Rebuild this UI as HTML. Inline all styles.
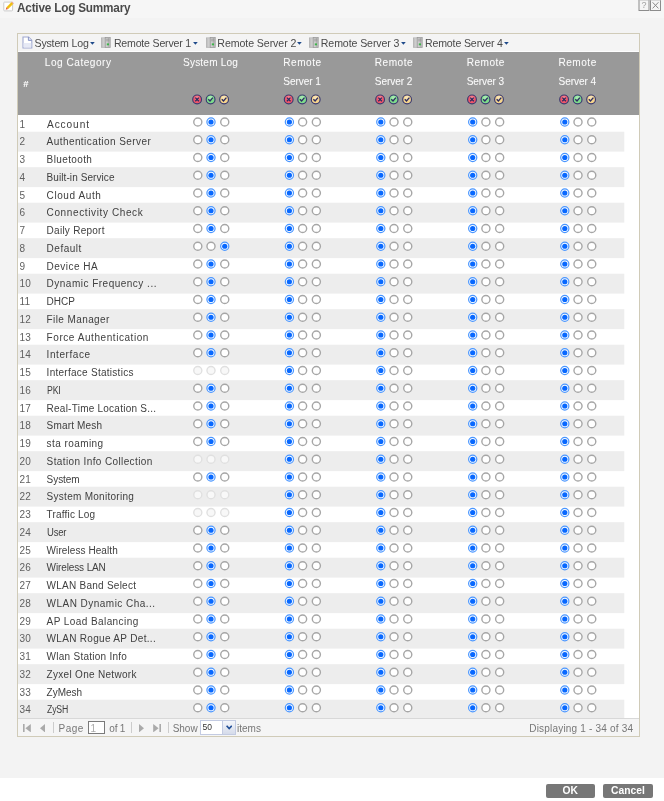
<!DOCTYPE html>
<html><head><meta charset="utf-8"><title>Active Log Summary</title><style>
*{box-sizing:border-box;margin:0;padding:0}
html,body{width:664px;height:801px;overflow:hidden}
body{background:#f3f3f3;font-family:"Liberation Sans",sans-serif;font-size:10px;color:#222;position:relative}
.abs{position:absolute}
#wrap{position:absolute;left:0;top:0;width:664px;height:801px;filter:blur(.35px)}
#titlebar{left:0;top:0;width:664px;height:17.6px;background:#f6f6f6}
#title{left:17.3px;top:.6px;font-size:12.4px;font-weight:bold;color:#4a4a4a;line-height:14px;white-space:nowrap}
#footer{left:0;top:777.5px;width:664px;height:24px;background:#fff}
#panel{left:17px;top:33px;width:623px;height:704px;border:1px solid #d0cbb8;background:#fff}
#toolbar{left:18px;top:34px;width:621px;height:18.4px;background:linear-gradient(#f4f4f4 0,#f4f4f4 16.6px,#fdfdfd 17.2px)}
.tb{top:35.6px;font-size:10.6px;line-height:14px;color:#4a4a4a;white-space:nowrap}
#head{left:18px;top:52.4px;width:621px;height:62.3px;background:#999}
.h{color:#fafafa;font-size:10.1px;line-height:14px;white-space:nowrap;text-shadow:0 0 1px rgba(255,255,255,.3)}
.n{left:19.6px;color:#606060;line-height:14px;white-space:nowrap}
.l{left:46.6px;color:#404040;line-height:14px;white-space:nowrap}
#pager{left:18px;top:718.2px;width:621px;height:17.8px;background:#f5f5f5;border-top:1px solid #d8d8d8}
.p{color:#777;line-height:14px;white-space:nowrap;top:722.4px}
.sep{width:1px;height:11px;top:722px;background:#ccc}
.btn{top:784px;height:14px;background:#777;border-radius:2px;color:#fff;font-weight:bold;font-size:10.3px;line-height:14px;text-align:center}
</style></head><body><div id="wrap">
<div class="abs" id="titlebar"></div>
<svg class="abs" style="left:3px;top:1px" width="11" height="11" viewBox="0 0 11 11"><rect x="0.8" y="1.1" width="8.8" height="8.8" rx=".8" fill="#fff" stroke="#cbcbcb" stroke-width="1"></rect><path d="M3.4 6.2 L8.4 1.1 L10.3 2.9 L5.2 8.0 Z" fill="#f6c81e"></path><path d="M4.3 7.1 L9.3 2" stroke="#e0a80e" stroke-width=".7"></path><path d="M8.4 1.1 L9.1 .4 L10.9 2.2 L10.3 2.9Z" fill="#e8a0a0"></path><path d="M3.4 6.2 L5.2 8.0 L2.7 8.8 Z" fill="#e2603a"></path></svg>
<div class="abs" id="title" style="letter-spacing: -0.2px; transform: scaleX(0.948); transform-origin: 0px 0px;">Active Log Summary</div>
<svg class="abs" style="left:637.5px;top:0" width="24" height="12" viewBox="0 0 24 12"><rect x="1" y="-0.5" width="10" height="11" fill="#f5f5f5" stroke="#8c8c8c"></rect><rect x="12.5" y="-0.5" width="10" height="11" fill="#f5f5f5" stroke="#8c8c8c"></rect><path d="M0.5 0.3H23" stroke="#b8b8b8" stroke-width=".6"></path><path d="M14.6 2.3 L20.4 8.4 M20.4 2.3 L14.6 8.4" stroke="#8a8a8a" stroke-width="1" fill="none"></path><text x="6" y="8.3" font-family="Liberation Sans, sans-serif" font-size="9" fill="#a0a0a0" text-anchor="middle">?</text></svg>
<div class="abs" id="footer"></div>
<div class="abs" id="panel"></div>
<div class="abs" id="toolbar"></div>
<svg class="abs" style="left:21.5px;top:36px" width="11" height="13" viewBox="0 0 11 13"><path d="M1 1 H6.6 L9.8 4.2 V12 H1 Z" fill="#fff" stroke="#9fa8d0" stroke-width="1.1"></path><path d="M6.4 1 V4.4 H9.8" fill="#dfe4f4" stroke="#7f8cc0" stroke-width=".9"></path><path d="M1.6 7h7.6v4.4H1.6z" fill="#e6e9f5"></path></svg>
<div class="abs tb" style="left: 34.5px; letter-spacing: -0.18px;">System Log</div>
<svg class="abs" style="left:90.1px;top:42.1px" width="4.8" height="2.8" viewBox="0 0 5 3"><path d="M0 0H5L2.5 3Z" fill="#1f4a8a"></path></svg>
<svg class="abs" style="left:101.3px;top:37px" width="10" height="11" viewBox="0 0 10 11"><rect x="0.4" y="0.9" width="4.4" height="9.4" fill="#dedede" stroke="#adadad" stroke-width=".8"></rect><path d="M1.6 1.4V10M3 1.4V10" stroke="#b4b4b4" stroke-width=".7"></path><rect x="4.2" y="0.4" width="5" height="10" fill="#cfcfcf" stroke="#9a9a9a" stroke-width=".8"></rect><rect x="6.8" y="0.8" width="2" height="9.2" fill="#b4b4b4"></rect><path d="M5 2.2h3.4M5 3.8h3.4" stroke="#8c8c8c" stroke-width=".6"></path><rect x="5.8" y="6.4" width="2.2" height="1.9" fill="#3db54a"></rect></svg>
<div class="abs tb" style="left: 113.9px; letter-spacing: -0.2px;">Remote Server 1</div>
<svg class="abs" style="left:192.9px;top:42.1px" width="4.8" height="2.8" viewBox="0 0 5 3"><path d="M0 0H5L2.5 3Z" fill="#1f4a8a"></path></svg>
<svg class="abs" style="left:205.6px;top:37px" width="10" height="11" viewBox="0 0 10 11"><rect x="0.4" y="0.9" width="4.4" height="9.4" fill="#dedede" stroke="#adadad" stroke-width=".8"></rect><path d="M1.6 1.4V10M3 1.4V10" stroke="#b4b4b4" stroke-width=".7"></path><rect x="4.2" y="0.4" width="5" height="10" fill="#cfcfcf" stroke="#9a9a9a" stroke-width=".8"></rect><rect x="6.8" y="0.8" width="2" height="9.2" fill="#b4b4b4"></rect><path d="M5 2.2h3.4M5 3.8h3.4" stroke="#8c8c8c" stroke-width=".6"></path><rect x="5.8" y="6.4" width="2.2" height="1.9" fill="#3db54a"></rect></svg>
<div class="abs tb" style="left: 217.3px; letter-spacing: -0.07px;">Remote Server 2</div>
<svg class="abs" style="left:297.1px;top:42.1px" width="4.8" height="2.8" viewBox="0 0 5 3"><path d="M0 0H5L2.5 3Z" fill="#1f4a8a"></path></svg>
<svg class="abs" style="left:308.6px;top:37px" width="10" height="11" viewBox="0 0 10 11"><rect x="0.4" y="0.9" width="4.4" height="9.4" fill="#dedede" stroke="#adadad" stroke-width=".8"></rect><path d="M1.6 1.4V10M3 1.4V10" stroke="#b4b4b4" stroke-width=".7"></path><rect x="4.2" y="0.4" width="5" height="10" fill="#cfcfcf" stroke="#9a9a9a" stroke-width=".8"></rect><rect x="6.8" y="0.8" width="2" height="9.2" fill="#b4b4b4"></rect><path d="M5 2.2h3.4M5 3.8h3.4" stroke="#8c8c8c" stroke-width=".6"></path><rect x="5.8" y="6.4" width="2.2" height="1.9" fill="#3db54a"></rect></svg>
<div class="abs tb" style="left: 320.8px; letter-spacing: -0.1px;">Remote Server 3</div>
<svg class="abs" style="left:401.20000000000005px;top:42.1px" width="4.8" height="2.8" viewBox="0 0 5 3"><path d="M0 0H5L2.5 3Z" fill="#1f4a8a"></path></svg>
<svg class="abs" style="left:413px;top:37px" width="10" height="11" viewBox="0 0 10 11"><rect x="0.4" y="0.9" width="4.4" height="9.4" fill="#dedede" stroke="#adadad" stroke-width=".8"></rect><path d="M1.6 1.4V10M3 1.4V10" stroke="#b4b4b4" stroke-width=".7"></path><rect x="4.2" y="0.4" width="5" height="10" fill="#cfcfcf" stroke="#9a9a9a" stroke-width=".8"></rect><rect x="6.8" y="0.8" width="2" height="9.2" fill="#b4b4b4"></rect><path d="M5 2.2h3.4M5 3.8h3.4" stroke="#8c8c8c" stroke-width=".6"></path><rect x="5.8" y="6.4" width="2.2" height="1.9" fill="#3db54a"></rect></svg>
<div class="abs tb" style="left: 424.9px; letter-spacing: -0.14px;">Remote Server 4</div>
<svg class="abs" style="left:504.1px;top:42.1px" width="4.8" height="2.8" viewBox="0 0 5 3"><path d="M0 0H5L2.5 3Z" fill="#1f4a8a"></path></svg>
<div class="abs" id="head"></div>
<div class="abs h" style="left:23.2px;top:77px;font-weight:bold;font-size:9.5px">#</div>
<div class="abs h" style="left: 44.8px; top: 55.8px; letter-spacing: 0.51px;">Log Category</div>
<div class="abs h" style="left: 183px; top: 56.2px; letter-spacing: 0.18px;">System Log</div>
<div class="abs h" style="left: 283.3px; top: 56.2px; letter-spacing: 0.48px;">Remote</div>
<div class="abs h" style="left: 283.3px; top: 75.1px; letter-spacing: -0.09px;">Server 1</div>
<div class="abs h" style="left: 374.8px; top: 56.2px; letter-spacing: 0.48px;">Remote</div>
<div class="abs h" style="left: 374.8px; top: 75.1px; letter-spacing: -0.09px;">Server 2</div>
<div class="abs h" style="left: 466.7px; top: 56.2px; letter-spacing: 0.48px;">Remote</div>
<div class="abs h" style="left: 466.7px; top: 75.1px; letter-spacing: -0.09px;">Server 3</div>
<div class="abs h" style="left: 558.5px; top: 56.2px; letter-spacing: 0.48px;">Remote</div>
<div class="abs h" style="left: 558.5px; top: 75.1px; letter-spacing: -0.09px;">Server 4</div>
<svg class="abs" style="left:0;top:0" width="664" height="801" viewBox="0 0 664 801"><rect x="18" y="131.70" width="606.3" height="19.90" fill="#ededed"></rect><rect x="18" y="167.20" width="606.3" height="19.90" fill="#ededed"></rect><rect x="18" y="202.70" width="606.3" height="19.90" fill="#ededed"></rect><rect x="18" y="238.20" width="606.3" height="19.90" fill="#ededed"></rect><rect x="18" y="273.70" width="606.3" height="19.90" fill="#ededed"></rect><rect x="18" y="309.20" width="606.3" height="19.90" fill="#ededed"></rect><rect x="18" y="344.70" width="606.3" height="19.90" fill="#ededed"></rect><rect x="18" y="380.20" width="606.3" height="19.90" fill="#ededed"></rect><rect x="18" y="415.70" width="606.3" height="19.90" fill="#ededed"></rect><rect x="18" y="451.20" width="606.3" height="19.90" fill="#ededed"></rect><rect x="18" y="486.70" width="606.3" height="19.90" fill="#ededed"></rect><rect x="18" y="522.20" width="606.3" height="19.90" fill="#ededed"></rect><rect x="18" y="557.70" width="606.3" height="19.90" fill="#ededed"></rect><rect x="18" y="593.20" width="606.3" height="19.90" fill="#ededed"></rect><rect x="18" y="628.70" width="606.3" height="19.90" fill="#ededed"></rect><rect x="18" y="664.20" width="606.3" height="19.90" fill="#ededed"></rect><rect x="18" y="699.70" width="606.3" height="18.60" fill="#ededed"></rect><circle cx="197.80" cy="122.00" r="4.05" fill="#fff" stroke="#a6a6a6" stroke-width="1.4"></circle><circle cx="211.00" cy="122.00" r="4.1" fill="#fbfdff" stroke="#4a96ff" stroke-width="1.2"></circle><circle cx="211.00" cy="122.00" r="2.6" fill="#0868ff"></circle><circle cx="224.75" cy="122.00" r="4.05" fill="#fff" stroke="#a6a6a6" stroke-width="1.4"></circle><circle cx="289.40" cy="122.00" r="4.1" fill="#fbfdff" stroke="#4a96ff" stroke-width="1.2"></circle><circle cx="289.40" cy="122.00" r="2.6" fill="#0868ff"></circle><circle cx="302.60" cy="122.00" r="4.05" fill="#fff" stroke="#a6a6a6" stroke-width="1.4"></circle><circle cx="316.35" cy="122.00" r="4.05" fill="#fff" stroke="#a6a6a6" stroke-width="1.4"></circle><circle cx="380.80" cy="122.00" r="4.1" fill="#fbfdff" stroke="#4a96ff" stroke-width="1.2"></circle><circle cx="380.80" cy="122.00" r="2.6" fill="#0868ff"></circle><circle cx="394.00" cy="122.00" r="4.05" fill="#fff" stroke="#a6a6a6" stroke-width="1.4"></circle><circle cx="407.75" cy="122.00" r="4.05" fill="#fff" stroke="#a6a6a6" stroke-width="1.4"></circle><circle cx="472.70" cy="122.00" r="4.1" fill="#fbfdff" stroke="#4a96ff" stroke-width="1.2"></circle><circle cx="472.70" cy="122.00" r="2.6" fill="#0868ff"></circle><circle cx="485.90" cy="122.00" r="4.05" fill="#fff" stroke="#a6a6a6" stroke-width="1.4"></circle><circle cx="499.65" cy="122.00" r="4.05" fill="#fff" stroke="#a6a6a6" stroke-width="1.4"></circle><circle cx="564.80" cy="122.00" r="4.1" fill="#fbfdff" stroke="#4a96ff" stroke-width="1.2"></circle><circle cx="564.80" cy="122.00" r="2.6" fill="#0868ff"></circle><circle cx="578.00" cy="122.00" r="4.05" fill="#fff" stroke="#a6a6a6" stroke-width="1.4"></circle><circle cx="591.75" cy="122.00" r="4.05" fill="#fff" stroke="#a6a6a6" stroke-width="1.4"></circle><circle cx="197.80" cy="139.75" r="4.05" fill="#fff" stroke="#a6a6a6" stroke-width="1.4"></circle><circle cx="211.00" cy="139.75" r="4.1" fill="#fbfdff" stroke="#4a96ff" stroke-width="1.2"></circle><circle cx="211.00" cy="139.75" r="2.6" fill="#0868ff"></circle><circle cx="224.75" cy="139.75" r="4.05" fill="#fff" stroke="#a6a6a6" stroke-width="1.4"></circle><circle cx="289.40" cy="139.75" r="4.1" fill="#fbfdff" stroke="#4a96ff" stroke-width="1.2"></circle><circle cx="289.40" cy="139.75" r="2.6" fill="#0868ff"></circle><circle cx="302.60" cy="139.75" r="4.05" fill="#fff" stroke="#a6a6a6" stroke-width="1.4"></circle><circle cx="316.35" cy="139.75" r="4.05" fill="#fff" stroke="#a6a6a6" stroke-width="1.4"></circle><circle cx="380.80" cy="139.75" r="4.1" fill="#fbfdff" stroke="#4a96ff" stroke-width="1.2"></circle><circle cx="380.80" cy="139.75" r="2.6" fill="#0868ff"></circle><circle cx="394.00" cy="139.75" r="4.05" fill="#fff" stroke="#a6a6a6" stroke-width="1.4"></circle><circle cx="407.75" cy="139.75" r="4.05" fill="#fff" stroke="#a6a6a6" stroke-width="1.4"></circle><circle cx="472.70" cy="139.75" r="4.1" fill="#fbfdff" stroke="#4a96ff" stroke-width="1.2"></circle><circle cx="472.70" cy="139.75" r="2.6" fill="#0868ff"></circle><circle cx="485.90" cy="139.75" r="4.05" fill="#fff" stroke="#a6a6a6" stroke-width="1.4"></circle><circle cx="499.65" cy="139.75" r="4.05" fill="#fff" stroke="#a6a6a6" stroke-width="1.4"></circle><circle cx="564.80" cy="139.75" r="4.1" fill="#fbfdff" stroke="#4a96ff" stroke-width="1.2"></circle><circle cx="564.80" cy="139.75" r="2.6" fill="#0868ff"></circle><circle cx="578.00" cy="139.75" r="4.05" fill="#fff" stroke="#a6a6a6" stroke-width="1.4"></circle><circle cx="591.75" cy="139.75" r="4.05" fill="#fff" stroke="#a6a6a6" stroke-width="1.4"></circle><circle cx="197.80" cy="157.50" r="4.05" fill="#fff" stroke="#a6a6a6" stroke-width="1.4"></circle><circle cx="211.00" cy="157.50" r="4.1" fill="#fbfdff" stroke="#4a96ff" stroke-width="1.2"></circle><circle cx="211.00" cy="157.50" r="2.6" fill="#0868ff"></circle><circle cx="224.75" cy="157.50" r="4.05" fill="#fff" stroke="#a6a6a6" stroke-width="1.4"></circle><circle cx="289.40" cy="157.50" r="4.1" fill="#fbfdff" stroke="#4a96ff" stroke-width="1.2"></circle><circle cx="289.40" cy="157.50" r="2.6" fill="#0868ff"></circle><circle cx="302.60" cy="157.50" r="4.05" fill="#fff" stroke="#a6a6a6" stroke-width="1.4"></circle><circle cx="316.35" cy="157.50" r="4.05" fill="#fff" stroke="#a6a6a6" stroke-width="1.4"></circle><circle cx="380.80" cy="157.50" r="4.1" fill="#fbfdff" stroke="#4a96ff" stroke-width="1.2"></circle><circle cx="380.80" cy="157.50" r="2.6" fill="#0868ff"></circle><circle cx="394.00" cy="157.50" r="4.05" fill="#fff" stroke="#a6a6a6" stroke-width="1.4"></circle><circle cx="407.75" cy="157.50" r="4.05" fill="#fff" stroke="#a6a6a6" stroke-width="1.4"></circle><circle cx="472.70" cy="157.50" r="4.1" fill="#fbfdff" stroke="#4a96ff" stroke-width="1.2"></circle><circle cx="472.70" cy="157.50" r="2.6" fill="#0868ff"></circle><circle cx="485.90" cy="157.50" r="4.05" fill="#fff" stroke="#a6a6a6" stroke-width="1.4"></circle><circle cx="499.65" cy="157.50" r="4.05" fill="#fff" stroke="#a6a6a6" stroke-width="1.4"></circle><circle cx="564.80" cy="157.50" r="4.1" fill="#fbfdff" stroke="#4a96ff" stroke-width="1.2"></circle><circle cx="564.80" cy="157.50" r="2.6" fill="#0868ff"></circle><circle cx="578.00" cy="157.50" r="4.05" fill="#fff" stroke="#a6a6a6" stroke-width="1.4"></circle><circle cx="591.75" cy="157.50" r="4.05" fill="#fff" stroke="#a6a6a6" stroke-width="1.4"></circle><circle cx="197.80" cy="175.25" r="4.05" fill="#fff" stroke="#a6a6a6" stroke-width="1.4"></circle><circle cx="211.00" cy="175.25" r="4.1" fill="#fbfdff" stroke="#4a96ff" stroke-width="1.2"></circle><circle cx="211.00" cy="175.25" r="2.6" fill="#0868ff"></circle><circle cx="224.75" cy="175.25" r="4.05" fill="#fff" stroke="#a6a6a6" stroke-width="1.4"></circle><circle cx="289.40" cy="175.25" r="4.1" fill="#fbfdff" stroke="#4a96ff" stroke-width="1.2"></circle><circle cx="289.40" cy="175.25" r="2.6" fill="#0868ff"></circle><circle cx="302.60" cy="175.25" r="4.05" fill="#fff" stroke="#a6a6a6" stroke-width="1.4"></circle><circle cx="316.35" cy="175.25" r="4.05" fill="#fff" stroke="#a6a6a6" stroke-width="1.4"></circle><circle cx="380.80" cy="175.25" r="4.1" fill="#fbfdff" stroke="#4a96ff" stroke-width="1.2"></circle><circle cx="380.80" cy="175.25" r="2.6" fill="#0868ff"></circle><circle cx="394.00" cy="175.25" r="4.05" fill="#fff" stroke="#a6a6a6" stroke-width="1.4"></circle><circle cx="407.75" cy="175.25" r="4.05" fill="#fff" stroke="#a6a6a6" stroke-width="1.4"></circle><circle cx="472.70" cy="175.25" r="4.1" fill="#fbfdff" stroke="#4a96ff" stroke-width="1.2"></circle><circle cx="472.70" cy="175.25" r="2.6" fill="#0868ff"></circle><circle cx="485.90" cy="175.25" r="4.05" fill="#fff" stroke="#a6a6a6" stroke-width="1.4"></circle><circle cx="499.65" cy="175.25" r="4.05" fill="#fff" stroke="#a6a6a6" stroke-width="1.4"></circle><circle cx="564.80" cy="175.25" r="4.1" fill="#fbfdff" stroke="#4a96ff" stroke-width="1.2"></circle><circle cx="564.80" cy="175.25" r="2.6" fill="#0868ff"></circle><circle cx="578.00" cy="175.25" r="4.05" fill="#fff" stroke="#a6a6a6" stroke-width="1.4"></circle><circle cx="591.75" cy="175.25" r="4.05" fill="#fff" stroke="#a6a6a6" stroke-width="1.4"></circle><circle cx="197.80" cy="193.00" r="4.05" fill="#fff" stroke="#a6a6a6" stroke-width="1.4"></circle><circle cx="211.00" cy="193.00" r="4.1" fill="#fbfdff" stroke="#4a96ff" stroke-width="1.2"></circle><circle cx="211.00" cy="193.00" r="2.6" fill="#0868ff"></circle><circle cx="224.75" cy="193.00" r="4.05" fill="#fff" stroke="#a6a6a6" stroke-width="1.4"></circle><circle cx="289.40" cy="193.00" r="4.1" fill="#fbfdff" stroke="#4a96ff" stroke-width="1.2"></circle><circle cx="289.40" cy="193.00" r="2.6" fill="#0868ff"></circle><circle cx="302.60" cy="193.00" r="4.05" fill="#fff" stroke="#a6a6a6" stroke-width="1.4"></circle><circle cx="316.35" cy="193.00" r="4.05" fill="#fff" stroke="#a6a6a6" stroke-width="1.4"></circle><circle cx="380.80" cy="193.00" r="4.1" fill="#fbfdff" stroke="#4a96ff" stroke-width="1.2"></circle><circle cx="380.80" cy="193.00" r="2.6" fill="#0868ff"></circle><circle cx="394.00" cy="193.00" r="4.05" fill="#fff" stroke="#a6a6a6" stroke-width="1.4"></circle><circle cx="407.75" cy="193.00" r="4.05" fill="#fff" stroke="#a6a6a6" stroke-width="1.4"></circle><circle cx="472.70" cy="193.00" r="4.1" fill="#fbfdff" stroke="#4a96ff" stroke-width="1.2"></circle><circle cx="472.70" cy="193.00" r="2.6" fill="#0868ff"></circle><circle cx="485.90" cy="193.00" r="4.05" fill="#fff" stroke="#a6a6a6" stroke-width="1.4"></circle><circle cx="499.65" cy="193.00" r="4.05" fill="#fff" stroke="#a6a6a6" stroke-width="1.4"></circle><circle cx="564.80" cy="193.00" r="4.1" fill="#fbfdff" stroke="#4a96ff" stroke-width="1.2"></circle><circle cx="564.80" cy="193.00" r="2.6" fill="#0868ff"></circle><circle cx="578.00" cy="193.00" r="4.05" fill="#fff" stroke="#a6a6a6" stroke-width="1.4"></circle><circle cx="591.75" cy="193.00" r="4.05" fill="#fff" stroke="#a6a6a6" stroke-width="1.4"></circle><circle cx="197.80" cy="210.75" r="4.05" fill="#fff" stroke="#a6a6a6" stroke-width="1.4"></circle><circle cx="211.00" cy="210.75" r="4.1" fill="#fbfdff" stroke="#4a96ff" stroke-width="1.2"></circle><circle cx="211.00" cy="210.75" r="2.6" fill="#0868ff"></circle><circle cx="224.75" cy="210.75" r="4.05" fill="#fff" stroke="#a6a6a6" stroke-width="1.4"></circle><circle cx="289.40" cy="210.75" r="4.1" fill="#fbfdff" stroke="#4a96ff" stroke-width="1.2"></circle><circle cx="289.40" cy="210.75" r="2.6" fill="#0868ff"></circle><circle cx="302.60" cy="210.75" r="4.05" fill="#fff" stroke="#a6a6a6" stroke-width="1.4"></circle><circle cx="316.35" cy="210.75" r="4.05" fill="#fff" stroke="#a6a6a6" stroke-width="1.4"></circle><circle cx="380.80" cy="210.75" r="4.1" fill="#fbfdff" stroke="#4a96ff" stroke-width="1.2"></circle><circle cx="380.80" cy="210.75" r="2.6" fill="#0868ff"></circle><circle cx="394.00" cy="210.75" r="4.05" fill="#fff" stroke="#a6a6a6" stroke-width="1.4"></circle><circle cx="407.75" cy="210.75" r="4.05" fill="#fff" stroke="#a6a6a6" stroke-width="1.4"></circle><circle cx="472.70" cy="210.75" r="4.1" fill="#fbfdff" stroke="#4a96ff" stroke-width="1.2"></circle><circle cx="472.70" cy="210.75" r="2.6" fill="#0868ff"></circle><circle cx="485.90" cy="210.75" r="4.05" fill="#fff" stroke="#a6a6a6" stroke-width="1.4"></circle><circle cx="499.65" cy="210.75" r="4.05" fill="#fff" stroke="#a6a6a6" stroke-width="1.4"></circle><circle cx="564.80" cy="210.75" r="4.1" fill="#fbfdff" stroke="#4a96ff" stroke-width="1.2"></circle><circle cx="564.80" cy="210.75" r="2.6" fill="#0868ff"></circle><circle cx="578.00" cy="210.75" r="4.05" fill="#fff" stroke="#a6a6a6" stroke-width="1.4"></circle><circle cx="591.75" cy="210.75" r="4.05" fill="#fff" stroke="#a6a6a6" stroke-width="1.4"></circle><circle cx="197.80" cy="228.50" r="4.05" fill="#fff" stroke="#a6a6a6" stroke-width="1.4"></circle><circle cx="211.00" cy="228.50" r="4.1" fill="#fbfdff" stroke="#4a96ff" stroke-width="1.2"></circle><circle cx="211.00" cy="228.50" r="2.6" fill="#0868ff"></circle><circle cx="224.75" cy="228.50" r="4.05" fill="#fff" stroke="#a6a6a6" stroke-width="1.4"></circle><circle cx="289.40" cy="228.50" r="4.1" fill="#fbfdff" stroke="#4a96ff" stroke-width="1.2"></circle><circle cx="289.40" cy="228.50" r="2.6" fill="#0868ff"></circle><circle cx="302.60" cy="228.50" r="4.05" fill="#fff" stroke="#a6a6a6" stroke-width="1.4"></circle><circle cx="316.35" cy="228.50" r="4.05" fill="#fff" stroke="#a6a6a6" stroke-width="1.4"></circle><circle cx="380.80" cy="228.50" r="4.1" fill="#fbfdff" stroke="#4a96ff" stroke-width="1.2"></circle><circle cx="380.80" cy="228.50" r="2.6" fill="#0868ff"></circle><circle cx="394.00" cy="228.50" r="4.05" fill="#fff" stroke="#a6a6a6" stroke-width="1.4"></circle><circle cx="407.75" cy="228.50" r="4.05" fill="#fff" stroke="#a6a6a6" stroke-width="1.4"></circle><circle cx="472.70" cy="228.50" r="4.1" fill="#fbfdff" stroke="#4a96ff" stroke-width="1.2"></circle><circle cx="472.70" cy="228.50" r="2.6" fill="#0868ff"></circle><circle cx="485.90" cy="228.50" r="4.05" fill="#fff" stroke="#a6a6a6" stroke-width="1.4"></circle><circle cx="499.65" cy="228.50" r="4.05" fill="#fff" stroke="#a6a6a6" stroke-width="1.4"></circle><circle cx="564.80" cy="228.50" r="4.1" fill="#fbfdff" stroke="#4a96ff" stroke-width="1.2"></circle><circle cx="564.80" cy="228.50" r="2.6" fill="#0868ff"></circle><circle cx="578.00" cy="228.50" r="4.05" fill="#fff" stroke="#a6a6a6" stroke-width="1.4"></circle><circle cx="591.75" cy="228.50" r="4.05" fill="#fff" stroke="#a6a6a6" stroke-width="1.4"></circle><circle cx="197.80" cy="246.25" r="4.05" fill="#fff" stroke="#a6a6a6" stroke-width="1.4"></circle><circle cx="211.00" cy="246.25" r="4.05" fill="#fff" stroke="#a6a6a6" stroke-width="1.4"></circle><circle cx="224.75" cy="246.25" r="4.1" fill="#fbfdff" stroke="#4a96ff" stroke-width="1.2"></circle><circle cx="224.75" cy="246.25" r="2.6" fill="#0868ff"></circle><circle cx="289.40" cy="246.25" r="4.1" fill="#fbfdff" stroke="#4a96ff" stroke-width="1.2"></circle><circle cx="289.40" cy="246.25" r="2.6" fill="#0868ff"></circle><circle cx="302.60" cy="246.25" r="4.05" fill="#fff" stroke="#a6a6a6" stroke-width="1.4"></circle><circle cx="316.35" cy="246.25" r="4.05" fill="#fff" stroke="#a6a6a6" stroke-width="1.4"></circle><circle cx="380.80" cy="246.25" r="4.1" fill="#fbfdff" stroke="#4a96ff" stroke-width="1.2"></circle><circle cx="380.80" cy="246.25" r="2.6" fill="#0868ff"></circle><circle cx="394.00" cy="246.25" r="4.05" fill="#fff" stroke="#a6a6a6" stroke-width="1.4"></circle><circle cx="407.75" cy="246.25" r="4.05" fill="#fff" stroke="#a6a6a6" stroke-width="1.4"></circle><circle cx="472.70" cy="246.25" r="4.1" fill="#fbfdff" stroke="#4a96ff" stroke-width="1.2"></circle><circle cx="472.70" cy="246.25" r="2.6" fill="#0868ff"></circle><circle cx="485.90" cy="246.25" r="4.05" fill="#fff" stroke="#a6a6a6" stroke-width="1.4"></circle><circle cx="499.65" cy="246.25" r="4.05" fill="#fff" stroke="#a6a6a6" stroke-width="1.4"></circle><circle cx="564.80" cy="246.25" r="4.1" fill="#fbfdff" stroke="#4a96ff" stroke-width="1.2"></circle><circle cx="564.80" cy="246.25" r="2.6" fill="#0868ff"></circle><circle cx="578.00" cy="246.25" r="4.05" fill="#fff" stroke="#a6a6a6" stroke-width="1.4"></circle><circle cx="591.75" cy="246.25" r="4.05" fill="#fff" stroke="#a6a6a6" stroke-width="1.4"></circle><circle cx="197.80" cy="264.00" r="4.05" fill="#fff" stroke="#a6a6a6" stroke-width="1.4"></circle><circle cx="211.00" cy="264.00" r="4.1" fill="#fbfdff" stroke="#4a96ff" stroke-width="1.2"></circle><circle cx="211.00" cy="264.00" r="2.6" fill="#0868ff"></circle><circle cx="224.75" cy="264.00" r="4.05" fill="#fff" stroke="#a6a6a6" stroke-width="1.4"></circle><circle cx="289.40" cy="264.00" r="4.1" fill="#fbfdff" stroke="#4a96ff" stroke-width="1.2"></circle><circle cx="289.40" cy="264.00" r="2.6" fill="#0868ff"></circle><circle cx="302.60" cy="264.00" r="4.05" fill="#fff" stroke="#a6a6a6" stroke-width="1.4"></circle><circle cx="316.35" cy="264.00" r="4.05" fill="#fff" stroke="#a6a6a6" stroke-width="1.4"></circle><circle cx="380.80" cy="264.00" r="4.1" fill="#fbfdff" stroke="#4a96ff" stroke-width="1.2"></circle><circle cx="380.80" cy="264.00" r="2.6" fill="#0868ff"></circle><circle cx="394.00" cy="264.00" r="4.05" fill="#fff" stroke="#a6a6a6" stroke-width="1.4"></circle><circle cx="407.75" cy="264.00" r="4.05" fill="#fff" stroke="#a6a6a6" stroke-width="1.4"></circle><circle cx="472.70" cy="264.00" r="4.1" fill="#fbfdff" stroke="#4a96ff" stroke-width="1.2"></circle><circle cx="472.70" cy="264.00" r="2.6" fill="#0868ff"></circle><circle cx="485.90" cy="264.00" r="4.05" fill="#fff" stroke="#a6a6a6" stroke-width="1.4"></circle><circle cx="499.65" cy="264.00" r="4.05" fill="#fff" stroke="#a6a6a6" stroke-width="1.4"></circle><circle cx="564.80" cy="264.00" r="4.1" fill="#fbfdff" stroke="#4a96ff" stroke-width="1.2"></circle><circle cx="564.80" cy="264.00" r="2.6" fill="#0868ff"></circle><circle cx="578.00" cy="264.00" r="4.05" fill="#fff" stroke="#a6a6a6" stroke-width="1.4"></circle><circle cx="591.75" cy="264.00" r="4.05" fill="#fff" stroke="#a6a6a6" stroke-width="1.4"></circle><circle cx="197.80" cy="281.75" r="4.05" fill="#fff" stroke="#a6a6a6" stroke-width="1.4"></circle><circle cx="211.00" cy="281.75" r="4.1" fill="#fbfdff" stroke="#4a96ff" stroke-width="1.2"></circle><circle cx="211.00" cy="281.75" r="2.6" fill="#0868ff"></circle><circle cx="224.75" cy="281.75" r="4.05" fill="#fff" stroke="#a6a6a6" stroke-width="1.4"></circle><circle cx="289.40" cy="281.75" r="4.1" fill="#fbfdff" stroke="#4a96ff" stroke-width="1.2"></circle><circle cx="289.40" cy="281.75" r="2.6" fill="#0868ff"></circle><circle cx="302.60" cy="281.75" r="4.05" fill="#fff" stroke="#a6a6a6" stroke-width="1.4"></circle><circle cx="316.35" cy="281.75" r="4.05" fill="#fff" stroke="#a6a6a6" stroke-width="1.4"></circle><circle cx="380.80" cy="281.75" r="4.1" fill="#fbfdff" stroke="#4a96ff" stroke-width="1.2"></circle><circle cx="380.80" cy="281.75" r="2.6" fill="#0868ff"></circle><circle cx="394.00" cy="281.75" r="4.05" fill="#fff" stroke="#a6a6a6" stroke-width="1.4"></circle><circle cx="407.75" cy="281.75" r="4.05" fill="#fff" stroke="#a6a6a6" stroke-width="1.4"></circle><circle cx="472.70" cy="281.75" r="4.1" fill="#fbfdff" stroke="#4a96ff" stroke-width="1.2"></circle><circle cx="472.70" cy="281.75" r="2.6" fill="#0868ff"></circle><circle cx="485.90" cy="281.75" r="4.05" fill="#fff" stroke="#a6a6a6" stroke-width="1.4"></circle><circle cx="499.65" cy="281.75" r="4.05" fill="#fff" stroke="#a6a6a6" stroke-width="1.4"></circle><circle cx="564.80" cy="281.75" r="4.1" fill="#fbfdff" stroke="#4a96ff" stroke-width="1.2"></circle><circle cx="564.80" cy="281.75" r="2.6" fill="#0868ff"></circle><circle cx="578.00" cy="281.75" r="4.05" fill="#fff" stroke="#a6a6a6" stroke-width="1.4"></circle><circle cx="591.75" cy="281.75" r="4.05" fill="#fff" stroke="#a6a6a6" stroke-width="1.4"></circle><circle cx="197.80" cy="299.50" r="4.05" fill="#fff" stroke="#a6a6a6" stroke-width="1.4"></circle><circle cx="211.00" cy="299.50" r="4.1" fill="#fbfdff" stroke="#4a96ff" stroke-width="1.2"></circle><circle cx="211.00" cy="299.50" r="2.6" fill="#0868ff"></circle><circle cx="224.75" cy="299.50" r="4.05" fill="#fff" stroke="#a6a6a6" stroke-width="1.4"></circle><circle cx="289.40" cy="299.50" r="4.1" fill="#fbfdff" stroke="#4a96ff" stroke-width="1.2"></circle><circle cx="289.40" cy="299.50" r="2.6" fill="#0868ff"></circle><circle cx="302.60" cy="299.50" r="4.05" fill="#fff" stroke="#a6a6a6" stroke-width="1.4"></circle><circle cx="316.35" cy="299.50" r="4.05" fill="#fff" stroke="#a6a6a6" stroke-width="1.4"></circle><circle cx="380.80" cy="299.50" r="4.1" fill="#fbfdff" stroke="#4a96ff" stroke-width="1.2"></circle><circle cx="380.80" cy="299.50" r="2.6" fill="#0868ff"></circle><circle cx="394.00" cy="299.50" r="4.05" fill="#fff" stroke="#a6a6a6" stroke-width="1.4"></circle><circle cx="407.75" cy="299.50" r="4.05" fill="#fff" stroke="#a6a6a6" stroke-width="1.4"></circle><circle cx="472.70" cy="299.50" r="4.1" fill="#fbfdff" stroke="#4a96ff" stroke-width="1.2"></circle><circle cx="472.70" cy="299.50" r="2.6" fill="#0868ff"></circle><circle cx="485.90" cy="299.50" r="4.05" fill="#fff" stroke="#a6a6a6" stroke-width="1.4"></circle><circle cx="499.65" cy="299.50" r="4.05" fill="#fff" stroke="#a6a6a6" stroke-width="1.4"></circle><circle cx="564.80" cy="299.50" r="4.1" fill="#fbfdff" stroke="#4a96ff" stroke-width="1.2"></circle><circle cx="564.80" cy="299.50" r="2.6" fill="#0868ff"></circle><circle cx="578.00" cy="299.50" r="4.05" fill="#fff" stroke="#a6a6a6" stroke-width="1.4"></circle><circle cx="591.75" cy="299.50" r="4.05" fill="#fff" stroke="#a6a6a6" stroke-width="1.4"></circle><circle cx="197.80" cy="317.25" r="4.05" fill="#fff" stroke="#a6a6a6" stroke-width="1.4"></circle><circle cx="211.00" cy="317.25" r="4.1" fill="#fbfdff" stroke="#4a96ff" stroke-width="1.2"></circle><circle cx="211.00" cy="317.25" r="2.6" fill="#0868ff"></circle><circle cx="224.75" cy="317.25" r="4.05" fill="#fff" stroke="#a6a6a6" stroke-width="1.4"></circle><circle cx="289.40" cy="317.25" r="4.1" fill="#fbfdff" stroke="#4a96ff" stroke-width="1.2"></circle><circle cx="289.40" cy="317.25" r="2.6" fill="#0868ff"></circle><circle cx="302.60" cy="317.25" r="4.05" fill="#fff" stroke="#a6a6a6" stroke-width="1.4"></circle><circle cx="316.35" cy="317.25" r="4.05" fill="#fff" stroke="#a6a6a6" stroke-width="1.4"></circle><circle cx="380.80" cy="317.25" r="4.1" fill="#fbfdff" stroke="#4a96ff" stroke-width="1.2"></circle><circle cx="380.80" cy="317.25" r="2.6" fill="#0868ff"></circle><circle cx="394.00" cy="317.25" r="4.05" fill="#fff" stroke="#a6a6a6" stroke-width="1.4"></circle><circle cx="407.75" cy="317.25" r="4.05" fill="#fff" stroke="#a6a6a6" stroke-width="1.4"></circle><circle cx="472.70" cy="317.25" r="4.1" fill="#fbfdff" stroke="#4a96ff" stroke-width="1.2"></circle><circle cx="472.70" cy="317.25" r="2.6" fill="#0868ff"></circle><circle cx="485.90" cy="317.25" r="4.05" fill="#fff" stroke="#a6a6a6" stroke-width="1.4"></circle><circle cx="499.65" cy="317.25" r="4.05" fill="#fff" stroke="#a6a6a6" stroke-width="1.4"></circle><circle cx="564.80" cy="317.25" r="4.1" fill="#fbfdff" stroke="#4a96ff" stroke-width="1.2"></circle><circle cx="564.80" cy="317.25" r="2.6" fill="#0868ff"></circle><circle cx="578.00" cy="317.25" r="4.05" fill="#fff" stroke="#a6a6a6" stroke-width="1.4"></circle><circle cx="591.75" cy="317.25" r="4.05" fill="#fff" stroke="#a6a6a6" stroke-width="1.4"></circle><circle cx="197.80" cy="335.00" r="4.05" fill="#fff" stroke="#a6a6a6" stroke-width="1.4"></circle><circle cx="211.00" cy="335.00" r="4.1" fill="#fbfdff" stroke="#4a96ff" stroke-width="1.2"></circle><circle cx="211.00" cy="335.00" r="2.6" fill="#0868ff"></circle><circle cx="224.75" cy="335.00" r="4.05" fill="#fff" stroke="#a6a6a6" stroke-width="1.4"></circle><circle cx="289.40" cy="335.00" r="4.1" fill="#fbfdff" stroke="#4a96ff" stroke-width="1.2"></circle><circle cx="289.40" cy="335.00" r="2.6" fill="#0868ff"></circle><circle cx="302.60" cy="335.00" r="4.05" fill="#fff" stroke="#a6a6a6" stroke-width="1.4"></circle><circle cx="316.35" cy="335.00" r="4.05" fill="#fff" stroke="#a6a6a6" stroke-width="1.4"></circle><circle cx="380.80" cy="335.00" r="4.1" fill="#fbfdff" stroke="#4a96ff" stroke-width="1.2"></circle><circle cx="380.80" cy="335.00" r="2.6" fill="#0868ff"></circle><circle cx="394.00" cy="335.00" r="4.05" fill="#fff" stroke="#a6a6a6" stroke-width="1.4"></circle><circle cx="407.75" cy="335.00" r="4.05" fill="#fff" stroke="#a6a6a6" stroke-width="1.4"></circle><circle cx="472.70" cy="335.00" r="4.1" fill="#fbfdff" stroke="#4a96ff" stroke-width="1.2"></circle><circle cx="472.70" cy="335.00" r="2.6" fill="#0868ff"></circle><circle cx="485.90" cy="335.00" r="4.05" fill="#fff" stroke="#a6a6a6" stroke-width="1.4"></circle><circle cx="499.65" cy="335.00" r="4.05" fill="#fff" stroke="#a6a6a6" stroke-width="1.4"></circle><circle cx="564.80" cy="335.00" r="4.1" fill="#fbfdff" stroke="#4a96ff" stroke-width="1.2"></circle><circle cx="564.80" cy="335.00" r="2.6" fill="#0868ff"></circle><circle cx="578.00" cy="335.00" r="4.05" fill="#fff" stroke="#a6a6a6" stroke-width="1.4"></circle><circle cx="591.75" cy="335.00" r="4.05" fill="#fff" stroke="#a6a6a6" stroke-width="1.4"></circle><circle cx="197.80" cy="352.75" r="4.05" fill="#fff" stroke="#a6a6a6" stroke-width="1.4"></circle><circle cx="211.00" cy="352.75" r="4.1" fill="#fbfdff" stroke="#4a96ff" stroke-width="1.2"></circle><circle cx="211.00" cy="352.75" r="2.6" fill="#0868ff"></circle><circle cx="224.75" cy="352.75" r="4.05" fill="#fff" stroke="#a6a6a6" stroke-width="1.4"></circle><circle cx="289.40" cy="352.75" r="4.1" fill="#fbfdff" stroke="#4a96ff" stroke-width="1.2"></circle><circle cx="289.40" cy="352.75" r="2.6" fill="#0868ff"></circle><circle cx="302.60" cy="352.75" r="4.05" fill="#fff" stroke="#a6a6a6" stroke-width="1.4"></circle><circle cx="316.35" cy="352.75" r="4.05" fill="#fff" stroke="#a6a6a6" stroke-width="1.4"></circle><circle cx="380.80" cy="352.75" r="4.1" fill="#fbfdff" stroke="#4a96ff" stroke-width="1.2"></circle><circle cx="380.80" cy="352.75" r="2.6" fill="#0868ff"></circle><circle cx="394.00" cy="352.75" r="4.05" fill="#fff" stroke="#a6a6a6" stroke-width="1.4"></circle><circle cx="407.75" cy="352.75" r="4.05" fill="#fff" stroke="#a6a6a6" stroke-width="1.4"></circle><circle cx="472.70" cy="352.75" r="4.1" fill="#fbfdff" stroke="#4a96ff" stroke-width="1.2"></circle><circle cx="472.70" cy="352.75" r="2.6" fill="#0868ff"></circle><circle cx="485.90" cy="352.75" r="4.05" fill="#fff" stroke="#a6a6a6" stroke-width="1.4"></circle><circle cx="499.65" cy="352.75" r="4.05" fill="#fff" stroke="#a6a6a6" stroke-width="1.4"></circle><circle cx="564.80" cy="352.75" r="4.1" fill="#fbfdff" stroke="#4a96ff" stroke-width="1.2"></circle><circle cx="564.80" cy="352.75" r="2.6" fill="#0868ff"></circle><circle cx="578.00" cy="352.75" r="4.05" fill="#fff" stroke="#a6a6a6" stroke-width="1.4"></circle><circle cx="591.75" cy="352.75" r="4.05" fill="#fff" stroke="#a6a6a6" stroke-width="1.4"></circle><circle cx="197.80" cy="370.50" r="4.05" fill="#f8f8f8" stroke="#e0e0e0" stroke-width="1.4"></circle><circle cx="211.00" cy="370.50" r="4.05" fill="#f8f8f8" stroke="#e0e0e0" stroke-width="1.4"></circle><circle cx="224.75" cy="370.50" r="4.05" fill="#f8f8f8" stroke="#e0e0e0" stroke-width="1.4"></circle><circle cx="289.40" cy="370.50" r="4.1" fill="#fbfdff" stroke="#4a96ff" stroke-width="1.2"></circle><circle cx="289.40" cy="370.50" r="2.6" fill="#0868ff"></circle><circle cx="302.60" cy="370.50" r="4.05" fill="#fff" stroke="#a6a6a6" stroke-width="1.4"></circle><circle cx="316.35" cy="370.50" r="4.05" fill="#fff" stroke="#a6a6a6" stroke-width="1.4"></circle><circle cx="380.80" cy="370.50" r="4.1" fill="#fbfdff" stroke="#4a96ff" stroke-width="1.2"></circle><circle cx="380.80" cy="370.50" r="2.6" fill="#0868ff"></circle><circle cx="394.00" cy="370.50" r="4.05" fill="#fff" stroke="#a6a6a6" stroke-width="1.4"></circle><circle cx="407.75" cy="370.50" r="4.05" fill="#fff" stroke="#a6a6a6" stroke-width="1.4"></circle><circle cx="472.70" cy="370.50" r="4.1" fill="#fbfdff" stroke="#4a96ff" stroke-width="1.2"></circle><circle cx="472.70" cy="370.50" r="2.6" fill="#0868ff"></circle><circle cx="485.90" cy="370.50" r="4.05" fill="#fff" stroke="#a6a6a6" stroke-width="1.4"></circle><circle cx="499.65" cy="370.50" r="4.05" fill="#fff" stroke="#a6a6a6" stroke-width="1.4"></circle><circle cx="564.80" cy="370.50" r="4.1" fill="#fbfdff" stroke="#4a96ff" stroke-width="1.2"></circle><circle cx="564.80" cy="370.50" r="2.6" fill="#0868ff"></circle><circle cx="578.00" cy="370.50" r="4.05" fill="#fff" stroke="#a6a6a6" stroke-width="1.4"></circle><circle cx="591.75" cy="370.50" r="4.05" fill="#fff" stroke="#a6a6a6" stroke-width="1.4"></circle><circle cx="197.80" cy="388.25" r="4.05" fill="#fff" stroke="#a6a6a6" stroke-width="1.4"></circle><circle cx="211.00" cy="388.25" r="4.1" fill="#fbfdff" stroke="#4a96ff" stroke-width="1.2"></circle><circle cx="211.00" cy="388.25" r="2.6" fill="#0868ff"></circle><circle cx="224.75" cy="388.25" r="4.05" fill="#fff" stroke="#a6a6a6" stroke-width="1.4"></circle><circle cx="289.40" cy="388.25" r="4.1" fill="#fbfdff" stroke="#4a96ff" stroke-width="1.2"></circle><circle cx="289.40" cy="388.25" r="2.6" fill="#0868ff"></circle><circle cx="302.60" cy="388.25" r="4.05" fill="#fff" stroke="#a6a6a6" stroke-width="1.4"></circle><circle cx="316.35" cy="388.25" r="4.05" fill="#fff" stroke="#a6a6a6" stroke-width="1.4"></circle><circle cx="380.80" cy="388.25" r="4.1" fill="#fbfdff" stroke="#4a96ff" stroke-width="1.2"></circle><circle cx="380.80" cy="388.25" r="2.6" fill="#0868ff"></circle><circle cx="394.00" cy="388.25" r="4.05" fill="#fff" stroke="#a6a6a6" stroke-width="1.4"></circle><circle cx="407.75" cy="388.25" r="4.05" fill="#fff" stroke="#a6a6a6" stroke-width="1.4"></circle><circle cx="472.70" cy="388.25" r="4.1" fill="#fbfdff" stroke="#4a96ff" stroke-width="1.2"></circle><circle cx="472.70" cy="388.25" r="2.6" fill="#0868ff"></circle><circle cx="485.90" cy="388.25" r="4.05" fill="#fff" stroke="#a6a6a6" stroke-width="1.4"></circle><circle cx="499.65" cy="388.25" r="4.05" fill="#fff" stroke="#a6a6a6" stroke-width="1.4"></circle><circle cx="564.80" cy="388.25" r="4.1" fill="#fbfdff" stroke="#4a96ff" stroke-width="1.2"></circle><circle cx="564.80" cy="388.25" r="2.6" fill="#0868ff"></circle><circle cx="578.00" cy="388.25" r="4.05" fill="#fff" stroke="#a6a6a6" stroke-width="1.4"></circle><circle cx="591.75" cy="388.25" r="4.05" fill="#fff" stroke="#a6a6a6" stroke-width="1.4"></circle><circle cx="197.80" cy="406.00" r="4.05" fill="#fff" stroke="#a6a6a6" stroke-width="1.4"></circle><circle cx="211.00" cy="406.00" r="4.1" fill="#fbfdff" stroke="#4a96ff" stroke-width="1.2"></circle><circle cx="211.00" cy="406.00" r="2.6" fill="#0868ff"></circle><circle cx="224.75" cy="406.00" r="4.05" fill="#fff" stroke="#a6a6a6" stroke-width="1.4"></circle><circle cx="289.40" cy="406.00" r="4.1" fill="#fbfdff" stroke="#4a96ff" stroke-width="1.2"></circle><circle cx="289.40" cy="406.00" r="2.6" fill="#0868ff"></circle><circle cx="302.60" cy="406.00" r="4.05" fill="#fff" stroke="#a6a6a6" stroke-width="1.4"></circle><circle cx="316.35" cy="406.00" r="4.05" fill="#fff" stroke="#a6a6a6" stroke-width="1.4"></circle><circle cx="380.80" cy="406.00" r="4.1" fill="#fbfdff" stroke="#4a96ff" stroke-width="1.2"></circle><circle cx="380.80" cy="406.00" r="2.6" fill="#0868ff"></circle><circle cx="394.00" cy="406.00" r="4.05" fill="#fff" stroke="#a6a6a6" stroke-width="1.4"></circle><circle cx="407.75" cy="406.00" r="4.05" fill="#fff" stroke="#a6a6a6" stroke-width="1.4"></circle><circle cx="472.70" cy="406.00" r="4.1" fill="#fbfdff" stroke="#4a96ff" stroke-width="1.2"></circle><circle cx="472.70" cy="406.00" r="2.6" fill="#0868ff"></circle><circle cx="485.90" cy="406.00" r="4.05" fill="#fff" stroke="#a6a6a6" stroke-width="1.4"></circle><circle cx="499.65" cy="406.00" r="4.05" fill="#fff" stroke="#a6a6a6" stroke-width="1.4"></circle><circle cx="564.80" cy="406.00" r="4.1" fill="#fbfdff" stroke="#4a96ff" stroke-width="1.2"></circle><circle cx="564.80" cy="406.00" r="2.6" fill="#0868ff"></circle><circle cx="578.00" cy="406.00" r="4.05" fill="#fff" stroke="#a6a6a6" stroke-width="1.4"></circle><circle cx="591.75" cy="406.00" r="4.05" fill="#fff" stroke="#a6a6a6" stroke-width="1.4"></circle><circle cx="197.80" cy="423.75" r="4.05" fill="#fff" stroke="#a6a6a6" stroke-width="1.4"></circle><circle cx="211.00" cy="423.75" r="4.1" fill="#fbfdff" stroke="#4a96ff" stroke-width="1.2"></circle><circle cx="211.00" cy="423.75" r="2.6" fill="#0868ff"></circle><circle cx="224.75" cy="423.75" r="4.05" fill="#fff" stroke="#a6a6a6" stroke-width="1.4"></circle><circle cx="289.40" cy="423.75" r="4.1" fill="#fbfdff" stroke="#4a96ff" stroke-width="1.2"></circle><circle cx="289.40" cy="423.75" r="2.6" fill="#0868ff"></circle><circle cx="302.60" cy="423.75" r="4.05" fill="#fff" stroke="#a6a6a6" stroke-width="1.4"></circle><circle cx="316.35" cy="423.75" r="4.05" fill="#fff" stroke="#a6a6a6" stroke-width="1.4"></circle><circle cx="380.80" cy="423.75" r="4.1" fill="#fbfdff" stroke="#4a96ff" stroke-width="1.2"></circle><circle cx="380.80" cy="423.75" r="2.6" fill="#0868ff"></circle><circle cx="394.00" cy="423.75" r="4.05" fill="#fff" stroke="#a6a6a6" stroke-width="1.4"></circle><circle cx="407.75" cy="423.75" r="4.05" fill="#fff" stroke="#a6a6a6" stroke-width="1.4"></circle><circle cx="472.70" cy="423.75" r="4.1" fill="#fbfdff" stroke="#4a96ff" stroke-width="1.2"></circle><circle cx="472.70" cy="423.75" r="2.6" fill="#0868ff"></circle><circle cx="485.90" cy="423.75" r="4.05" fill="#fff" stroke="#a6a6a6" stroke-width="1.4"></circle><circle cx="499.65" cy="423.75" r="4.05" fill="#fff" stroke="#a6a6a6" stroke-width="1.4"></circle><circle cx="564.80" cy="423.75" r="4.1" fill="#fbfdff" stroke="#4a96ff" stroke-width="1.2"></circle><circle cx="564.80" cy="423.75" r="2.6" fill="#0868ff"></circle><circle cx="578.00" cy="423.75" r="4.05" fill="#fff" stroke="#a6a6a6" stroke-width="1.4"></circle><circle cx="591.75" cy="423.75" r="4.05" fill="#fff" stroke="#a6a6a6" stroke-width="1.4"></circle><circle cx="197.80" cy="441.50" r="4.05" fill="#fff" stroke="#a6a6a6" stroke-width="1.4"></circle><circle cx="211.00" cy="441.50" r="4.1" fill="#fbfdff" stroke="#4a96ff" stroke-width="1.2"></circle><circle cx="211.00" cy="441.50" r="2.6" fill="#0868ff"></circle><circle cx="224.75" cy="441.50" r="4.05" fill="#fff" stroke="#a6a6a6" stroke-width="1.4"></circle><circle cx="289.40" cy="441.50" r="4.1" fill="#fbfdff" stroke="#4a96ff" stroke-width="1.2"></circle><circle cx="289.40" cy="441.50" r="2.6" fill="#0868ff"></circle><circle cx="302.60" cy="441.50" r="4.05" fill="#fff" stroke="#a6a6a6" stroke-width="1.4"></circle><circle cx="316.35" cy="441.50" r="4.05" fill="#fff" stroke="#a6a6a6" stroke-width="1.4"></circle><circle cx="380.80" cy="441.50" r="4.1" fill="#fbfdff" stroke="#4a96ff" stroke-width="1.2"></circle><circle cx="380.80" cy="441.50" r="2.6" fill="#0868ff"></circle><circle cx="394.00" cy="441.50" r="4.05" fill="#fff" stroke="#a6a6a6" stroke-width="1.4"></circle><circle cx="407.75" cy="441.50" r="4.05" fill="#fff" stroke="#a6a6a6" stroke-width="1.4"></circle><circle cx="472.70" cy="441.50" r="4.1" fill="#fbfdff" stroke="#4a96ff" stroke-width="1.2"></circle><circle cx="472.70" cy="441.50" r="2.6" fill="#0868ff"></circle><circle cx="485.90" cy="441.50" r="4.05" fill="#fff" stroke="#a6a6a6" stroke-width="1.4"></circle><circle cx="499.65" cy="441.50" r="4.05" fill="#fff" stroke="#a6a6a6" stroke-width="1.4"></circle><circle cx="564.80" cy="441.50" r="4.1" fill="#fbfdff" stroke="#4a96ff" stroke-width="1.2"></circle><circle cx="564.80" cy="441.50" r="2.6" fill="#0868ff"></circle><circle cx="578.00" cy="441.50" r="4.05" fill="#fff" stroke="#a6a6a6" stroke-width="1.4"></circle><circle cx="591.75" cy="441.50" r="4.05" fill="#fff" stroke="#a6a6a6" stroke-width="1.4"></circle><circle cx="197.80" cy="459.25" r="4.05" fill="#f8f8f8" stroke="#e0e0e0" stroke-width="1.4"></circle><circle cx="211.00" cy="459.25" r="4.05" fill="#f8f8f8" stroke="#e0e0e0" stroke-width="1.4"></circle><circle cx="224.75" cy="459.25" r="4.05" fill="#f8f8f8" stroke="#e0e0e0" stroke-width="1.4"></circle><circle cx="289.40" cy="459.25" r="4.1" fill="#fbfdff" stroke="#4a96ff" stroke-width="1.2"></circle><circle cx="289.40" cy="459.25" r="2.6" fill="#0868ff"></circle><circle cx="302.60" cy="459.25" r="4.05" fill="#fff" stroke="#a6a6a6" stroke-width="1.4"></circle><circle cx="316.35" cy="459.25" r="4.05" fill="#fff" stroke="#a6a6a6" stroke-width="1.4"></circle><circle cx="380.80" cy="459.25" r="4.1" fill="#fbfdff" stroke="#4a96ff" stroke-width="1.2"></circle><circle cx="380.80" cy="459.25" r="2.6" fill="#0868ff"></circle><circle cx="394.00" cy="459.25" r="4.05" fill="#fff" stroke="#a6a6a6" stroke-width="1.4"></circle><circle cx="407.75" cy="459.25" r="4.05" fill="#fff" stroke="#a6a6a6" stroke-width="1.4"></circle><circle cx="472.70" cy="459.25" r="4.1" fill="#fbfdff" stroke="#4a96ff" stroke-width="1.2"></circle><circle cx="472.70" cy="459.25" r="2.6" fill="#0868ff"></circle><circle cx="485.90" cy="459.25" r="4.05" fill="#fff" stroke="#a6a6a6" stroke-width="1.4"></circle><circle cx="499.65" cy="459.25" r="4.05" fill="#fff" stroke="#a6a6a6" stroke-width="1.4"></circle><circle cx="564.80" cy="459.25" r="4.1" fill="#fbfdff" stroke="#4a96ff" stroke-width="1.2"></circle><circle cx="564.80" cy="459.25" r="2.6" fill="#0868ff"></circle><circle cx="578.00" cy="459.25" r="4.05" fill="#fff" stroke="#a6a6a6" stroke-width="1.4"></circle><circle cx="591.75" cy="459.25" r="4.05" fill="#fff" stroke="#a6a6a6" stroke-width="1.4"></circle><circle cx="197.80" cy="477.00" r="4.05" fill="#fff" stroke="#a6a6a6" stroke-width="1.4"></circle><circle cx="211.00" cy="477.00" r="4.1" fill="#fbfdff" stroke="#4a96ff" stroke-width="1.2"></circle><circle cx="211.00" cy="477.00" r="2.6" fill="#0868ff"></circle><circle cx="224.75" cy="477.00" r="4.05" fill="#fff" stroke="#a6a6a6" stroke-width="1.4"></circle><circle cx="289.40" cy="477.00" r="4.1" fill="#fbfdff" stroke="#4a96ff" stroke-width="1.2"></circle><circle cx="289.40" cy="477.00" r="2.6" fill="#0868ff"></circle><circle cx="302.60" cy="477.00" r="4.05" fill="#fff" stroke="#a6a6a6" stroke-width="1.4"></circle><circle cx="316.35" cy="477.00" r="4.05" fill="#fff" stroke="#a6a6a6" stroke-width="1.4"></circle><circle cx="380.80" cy="477.00" r="4.1" fill="#fbfdff" stroke="#4a96ff" stroke-width="1.2"></circle><circle cx="380.80" cy="477.00" r="2.6" fill="#0868ff"></circle><circle cx="394.00" cy="477.00" r="4.05" fill="#fff" stroke="#a6a6a6" stroke-width="1.4"></circle><circle cx="407.75" cy="477.00" r="4.05" fill="#fff" stroke="#a6a6a6" stroke-width="1.4"></circle><circle cx="472.70" cy="477.00" r="4.1" fill="#fbfdff" stroke="#4a96ff" stroke-width="1.2"></circle><circle cx="472.70" cy="477.00" r="2.6" fill="#0868ff"></circle><circle cx="485.90" cy="477.00" r="4.05" fill="#fff" stroke="#a6a6a6" stroke-width="1.4"></circle><circle cx="499.65" cy="477.00" r="4.05" fill="#fff" stroke="#a6a6a6" stroke-width="1.4"></circle><circle cx="564.80" cy="477.00" r="4.1" fill="#fbfdff" stroke="#4a96ff" stroke-width="1.2"></circle><circle cx="564.80" cy="477.00" r="2.6" fill="#0868ff"></circle><circle cx="578.00" cy="477.00" r="4.05" fill="#fff" stroke="#a6a6a6" stroke-width="1.4"></circle><circle cx="591.75" cy="477.00" r="4.05" fill="#fff" stroke="#a6a6a6" stroke-width="1.4"></circle><circle cx="197.80" cy="494.75" r="4.05" fill="#f8f8f8" stroke="#e0e0e0" stroke-width="1.4"></circle><circle cx="211.00" cy="494.75" r="4.05" fill="#f8f8f8" stroke="#e0e0e0" stroke-width="1.4"></circle><circle cx="224.75" cy="494.75" r="4.05" fill="#f8f8f8" stroke="#e0e0e0" stroke-width="1.4"></circle><circle cx="289.40" cy="494.75" r="4.1" fill="#fbfdff" stroke="#4a96ff" stroke-width="1.2"></circle><circle cx="289.40" cy="494.75" r="2.6" fill="#0868ff"></circle><circle cx="302.60" cy="494.75" r="4.05" fill="#fff" stroke="#a6a6a6" stroke-width="1.4"></circle><circle cx="316.35" cy="494.75" r="4.05" fill="#fff" stroke="#a6a6a6" stroke-width="1.4"></circle><circle cx="380.80" cy="494.75" r="4.1" fill="#fbfdff" stroke="#4a96ff" stroke-width="1.2"></circle><circle cx="380.80" cy="494.75" r="2.6" fill="#0868ff"></circle><circle cx="394.00" cy="494.75" r="4.05" fill="#fff" stroke="#a6a6a6" stroke-width="1.4"></circle><circle cx="407.75" cy="494.75" r="4.05" fill="#fff" stroke="#a6a6a6" stroke-width="1.4"></circle><circle cx="472.70" cy="494.75" r="4.1" fill="#fbfdff" stroke="#4a96ff" stroke-width="1.2"></circle><circle cx="472.70" cy="494.75" r="2.6" fill="#0868ff"></circle><circle cx="485.90" cy="494.75" r="4.05" fill="#fff" stroke="#a6a6a6" stroke-width="1.4"></circle><circle cx="499.65" cy="494.75" r="4.05" fill="#fff" stroke="#a6a6a6" stroke-width="1.4"></circle><circle cx="564.80" cy="494.75" r="4.1" fill="#fbfdff" stroke="#4a96ff" stroke-width="1.2"></circle><circle cx="564.80" cy="494.75" r="2.6" fill="#0868ff"></circle><circle cx="578.00" cy="494.75" r="4.05" fill="#fff" stroke="#a6a6a6" stroke-width="1.4"></circle><circle cx="591.75" cy="494.75" r="4.05" fill="#fff" stroke="#a6a6a6" stroke-width="1.4"></circle><circle cx="197.80" cy="512.50" r="4.05" fill="#f8f8f8" stroke="#e0e0e0" stroke-width="1.4"></circle><circle cx="211.00" cy="512.50" r="4.05" fill="#f8f8f8" stroke="#e0e0e0" stroke-width="1.4"></circle><circle cx="224.75" cy="512.50" r="4.05" fill="#f8f8f8" stroke="#e0e0e0" stroke-width="1.4"></circle><circle cx="289.40" cy="512.50" r="4.1" fill="#fbfdff" stroke="#4a96ff" stroke-width="1.2"></circle><circle cx="289.40" cy="512.50" r="2.6" fill="#0868ff"></circle><circle cx="302.60" cy="512.50" r="4.05" fill="#fff" stroke="#a6a6a6" stroke-width="1.4"></circle><circle cx="316.35" cy="512.50" r="4.05" fill="#fff" stroke="#a6a6a6" stroke-width="1.4"></circle><circle cx="380.80" cy="512.50" r="4.1" fill="#fbfdff" stroke="#4a96ff" stroke-width="1.2"></circle><circle cx="380.80" cy="512.50" r="2.6" fill="#0868ff"></circle><circle cx="394.00" cy="512.50" r="4.05" fill="#fff" stroke="#a6a6a6" stroke-width="1.4"></circle><circle cx="407.75" cy="512.50" r="4.05" fill="#fff" stroke="#a6a6a6" stroke-width="1.4"></circle><circle cx="472.70" cy="512.50" r="4.1" fill="#fbfdff" stroke="#4a96ff" stroke-width="1.2"></circle><circle cx="472.70" cy="512.50" r="2.6" fill="#0868ff"></circle><circle cx="485.90" cy="512.50" r="4.05" fill="#fff" stroke="#a6a6a6" stroke-width="1.4"></circle><circle cx="499.65" cy="512.50" r="4.05" fill="#fff" stroke="#a6a6a6" stroke-width="1.4"></circle><circle cx="564.80" cy="512.50" r="4.1" fill="#fbfdff" stroke="#4a96ff" stroke-width="1.2"></circle><circle cx="564.80" cy="512.50" r="2.6" fill="#0868ff"></circle><circle cx="578.00" cy="512.50" r="4.05" fill="#fff" stroke="#a6a6a6" stroke-width="1.4"></circle><circle cx="591.75" cy="512.50" r="4.05" fill="#fff" stroke="#a6a6a6" stroke-width="1.4"></circle><circle cx="197.80" cy="530.25" r="4.05" fill="#fff" stroke="#a6a6a6" stroke-width="1.4"></circle><circle cx="211.00" cy="530.25" r="4.1" fill="#fbfdff" stroke="#4a96ff" stroke-width="1.2"></circle><circle cx="211.00" cy="530.25" r="2.6" fill="#0868ff"></circle><circle cx="224.75" cy="530.25" r="4.05" fill="#fff" stroke="#a6a6a6" stroke-width="1.4"></circle><circle cx="289.40" cy="530.25" r="4.1" fill="#fbfdff" stroke="#4a96ff" stroke-width="1.2"></circle><circle cx="289.40" cy="530.25" r="2.6" fill="#0868ff"></circle><circle cx="302.60" cy="530.25" r="4.05" fill="#fff" stroke="#a6a6a6" stroke-width="1.4"></circle><circle cx="316.35" cy="530.25" r="4.05" fill="#fff" stroke="#a6a6a6" stroke-width="1.4"></circle><circle cx="380.80" cy="530.25" r="4.1" fill="#fbfdff" stroke="#4a96ff" stroke-width="1.2"></circle><circle cx="380.80" cy="530.25" r="2.6" fill="#0868ff"></circle><circle cx="394.00" cy="530.25" r="4.05" fill="#fff" stroke="#a6a6a6" stroke-width="1.4"></circle><circle cx="407.75" cy="530.25" r="4.05" fill="#fff" stroke="#a6a6a6" stroke-width="1.4"></circle><circle cx="472.70" cy="530.25" r="4.1" fill="#fbfdff" stroke="#4a96ff" stroke-width="1.2"></circle><circle cx="472.70" cy="530.25" r="2.6" fill="#0868ff"></circle><circle cx="485.90" cy="530.25" r="4.05" fill="#fff" stroke="#a6a6a6" stroke-width="1.4"></circle><circle cx="499.65" cy="530.25" r="4.05" fill="#fff" stroke="#a6a6a6" stroke-width="1.4"></circle><circle cx="564.80" cy="530.25" r="4.1" fill="#fbfdff" stroke="#4a96ff" stroke-width="1.2"></circle><circle cx="564.80" cy="530.25" r="2.6" fill="#0868ff"></circle><circle cx="578.00" cy="530.25" r="4.05" fill="#fff" stroke="#a6a6a6" stroke-width="1.4"></circle><circle cx="591.75" cy="530.25" r="4.05" fill="#fff" stroke="#a6a6a6" stroke-width="1.4"></circle><circle cx="197.80" cy="548.00" r="4.05" fill="#fff" stroke="#a6a6a6" stroke-width="1.4"></circle><circle cx="211.00" cy="548.00" r="4.1" fill="#fbfdff" stroke="#4a96ff" stroke-width="1.2"></circle><circle cx="211.00" cy="548.00" r="2.6" fill="#0868ff"></circle><circle cx="224.75" cy="548.00" r="4.05" fill="#fff" stroke="#a6a6a6" stroke-width="1.4"></circle><circle cx="289.40" cy="548.00" r="4.1" fill="#fbfdff" stroke="#4a96ff" stroke-width="1.2"></circle><circle cx="289.40" cy="548.00" r="2.6" fill="#0868ff"></circle><circle cx="302.60" cy="548.00" r="4.05" fill="#fff" stroke="#a6a6a6" stroke-width="1.4"></circle><circle cx="316.35" cy="548.00" r="4.05" fill="#fff" stroke="#a6a6a6" stroke-width="1.4"></circle><circle cx="380.80" cy="548.00" r="4.1" fill="#fbfdff" stroke="#4a96ff" stroke-width="1.2"></circle><circle cx="380.80" cy="548.00" r="2.6" fill="#0868ff"></circle><circle cx="394.00" cy="548.00" r="4.05" fill="#fff" stroke="#a6a6a6" stroke-width="1.4"></circle><circle cx="407.75" cy="548.00" r="4.05" fill="#fff" stroke="#a6a6a6" stroke-width="1.4"></circle><circle cx="472.70" cy="548.00" r="4.1" fill="#fbfdff" stroke="#4a96ff" stroke-width="1.2"></circle><circle cx="472.70" cy="548.00" r="2.6" fill="#0868ff"></circle><circle cx="485.90" cy="548.00" r="4.05" fill="#fff" stroke="#a6a6a6" stroke-width="1.4"></circle><circle cx="499.65" cy="548.00" r="4.05" fill="#fff" stroke="#a6a6a6" stroke-width="1.4"></circle><circle cx="564.80" cy="548.00" r="4.1" fill="#fbfdff" stroke="#4a96ff" stroke-width="1.2"></circle><circle cx="564.80" cy="548.00" r="2.6" fill="#0868ff"></circle><circle cx="578.00" cy="548.00" r="4.05" fill="#fff" stroke="#a6a6a6" stroke-width="1.4"></circle><circle cx="591.75" cy="548.00" r="4.05" fill="#fff" stroke="#a6a6a6" stroke-width="1.4"></circle><circle cx="197.80" cy="565.75" r="4.05" fill="#fff" stroke="#a6a6a6" stroke-width="1.4"></circle><circle cx="211.00" cy="565.75" r="4.1" fill="#fbfdff" stroke="#4a96ff" stroke-width="1.2"></circle><circle cx="211.00" cy="565.75" r="2.6" fill="#0868ff"></circle><circle cx="224.75" cy="565.75" r="4.05" fill="#fff" stroke="#a6a6a6" stroke-width="1.4"></circle><circle cx="289.40" cy="565.75" r="4.1" fill="#fbfdff" stroke="#4a96ff" stroke-width="1.2"></circle><circle cx="289.40" cy="565.75" r="2.6" fill="#0868ff"></circle><circle cx="302.60" cy="565.75" r="4.05" fill="#fff" stroke="#a6a6a6" stroke-width="1.4"></circle><circle cx="316.35" cy="565.75" r="4.05" fill="#fff" stroke="#a6a6a6" stroke-width="1.4"></circle><circle cx="380.80" cy="565.75" r="4.1" fill="#fbfdff" stroke="#4a96ff" stroke-width="1.2"></circle><circle cx="380.80" cy="565.75" r="2.6" fill="#0868ff"></circle><circle cx="394.00" cy="565.75" r="4.05" fill="#fff" stroke="#a6a6a6" stroke-width="1.4"></circle><circle cx="407.75" cy="565.75" r="4.05" fill="#fff" stroke="#a6a6a6" stroke-width="1.4"></circle><circle cx="472.70" cy="565.75" r="4.1" fill="#fbfdff" stroke="#4a96ff" stroke-width="1.2"></circle><circle cx="472.70" cy="565.75" r="2.6" fill="#0868ff"></circle><circle cx="485.90" cy="565.75" r="4.05" fill="#fff" stroke="#a6a6a6" stroke-width="1.4"></circle><circle cx="499.65" cy="565.75" r="4.05" fill="#fff" stroke="#a6a6a6" stroke-width="1.4"></circle><circle cx="564.80" cy="565.75" r="4.1" fill="#fbfdff" stroke="#4a96ff" stroke-width="1.2"></circle><circle cx="564.80" cy="565.75" r="2.6" fill="#0868ff"></circle><circle cx="578.00" cy="565.75" r="4.05" fill="#fff" stroke="#a6a6a6" stroke-width="1.4"></circle><circle cx="591.75" cy="565.75" r="4.05" fill="#fff" stroke="#a6a6a6" stroke-width="1.4"></circle><circle cx="197.80" cy="583.50" r="4.05" fill="#fff" stroke="#a6a6a6" stroke-width="1.4"></circle><circle cx="211.00" cy="583.50" r="4.1" fill="#fbfdff" stroke="#4a96ff" stroke-width="1.2"></circle><circle cx="211.00" cy="583.50" r="2.6" fill="#0868ff"></circle><circle cx="224.75" cy="583.50" r="4.05" fill="#fff" stroke="#a6a6a6" stroke-width="1.4"></circle><circle cx="289.40" cy="583.50" r="4.1" fill="#fbfdff" stroke="#4a96ff" stroke-width="1.2"></circle><circle cx="289.40" cy="583.50" r="2.6" fill="#0868ff"></circle><circle cx="302.60" cy="583.50" r="4.05" fill="#fff" stroke="#a6a6a6" stroke-width="1.4"></circle><circle cx="316.35" cy="583.50" r="4.05" fill="#fff" stroke="#a6a6a6" stroke-width="1.4"></circle><circle cx="380.80" cy="583.50" r="4.1" fill="#fbfdff" stroke="#4a96ff" stroke-width="1.2"></circle><circle cx="380.80" cy="583.50" r="2.6" fill="#0868ff"></circle><circle cx="394.00" cy="583.50" r="4.05" fill="#fff" stroke="#a6a6a6" stroke-width="1.4"></circle><circle cx="407.75" cy="583.50" r="4.05" fill="#fff" stroke="#a6a6a6" stroke-width="1.4"></circle><circle cx="472.70" cy="583.50" r="4.1" fill="#fbfdff" stroke="#4a96ff" stroke-width="1.2"></circle><circle cx="472.70" cy="583.50" r="2.6" fill="#0868ff"></circle><circle cx="485.90" cy="583.50" r="4.05" fill="#fff" stroke="#a6a6a6" stroke-width="1.4"></circle><circle cx="499.65" cy="583.50" r="4.05" fill="#fff" stroke="#a6a6a6" stroke-width="1.4"></circle><circle cx="564.80" cy="583.50" r="4.1" fill="#fbfdff" stroke="#4a96ff" stroke-width="1.2"></circle><circle cx="564.80" cy="583.50" r="2.6" fill="#0868ff"></circle><circle cx="578.00" cy="583.50" r="4.05" fill="#fff" stroke="#a6a6a6" stroke-width="1.4"></circle><circle cx="591.75" cy="583.50" r="4.05" fill="#fff" stroke="#a6a6a6" stroke-width="1.4"></circle><circle cx="197.80" cy="601.25" r="4.05" fill="#fff" stroke="#a6a6a6" stroke-width="1.4"></circle><circle cx="211.00" cy="601.25" r="4.1" fill="#fbfdff" stroke="#4a96ff" stroke-width="1.2"></circle><circle cx="211.00" cy="601.25" r="2.6" fill="#0868ff"></circle><circle cx="224.75" cy="601.25" r="4.05" fill="#fff" stroke="#a6a6a6" stroke-width="1.4"></circle><circle cx="289.40" cy="601.25" r="4.1" fill="#fbfdff" stroke="#4a96ff" stroke-width="1.2"></circle><circle cx="289.40" cy="601.25" r="2.6" fill="#0868ff"></circle><circle cx="302.60" cy="601.25" r="4.05" fill="#fff" stroke="#a6a6a6" stroke-width="1.4"></circle><circle cx="316.35" cy="601.25" r="4.05" fill="#fff" stroke="#a6a6a6" stroke-width="1.4"></circle><circle cx="380.80" cy="601.25" r="4.1" fill="#fbfdff" stroke="#4a96ff" stroke-width="1.2"></circle><circle cx="380.80" cy="601.25" r="2.6" fill="#0868ff"></circle><circle cx="394.00" cy="601.25" r="4.05" fill="#fff" stroke="#a6a6a6" stroke-width="1.4"></circle><circle cx="407.75" cy="601.25" r="4.05" fill="#fff" stroke="#a6a6a6" stroke-width="1.4"></circle><circle cx="472.70" cy="601.25" r="4.1" fill="#fbfdff" stroke="#4a96ff" stroke-width="1.2"></circle><circle cx="472.70" cy="601.25" r="2.6" fill="#0868ff"></circle><circle cx="485.90" cy="601.25" r="4.05" fill="#fff" stroke="#a6a6a6" stroke-width="1.4"></circle><circle cx="499.65" cy="601.25" r="4.05" fill="#fff" stroke="#a6a6a6" stroke-width="1.4"></circle><circle cx="564.80" cy="601.25" r="4.1" fill="#fbfdff" stroke="#4a96ff" stroke-width="1.2"></circle><circle cx="564.80" cy="601.25" r="2.6" fill="#0868ff"></circle><circle cx="578.00" cy="601.25" r="4.05" fill="#fff" stroke="#a6a6a6" stroke-width="1.4"></circle><circle cx="591.75" cy="601.25" r="4.05" fill="#fff" stroke="#a6a6a6" stroke-width="1.4"></circle><circle cx="197.80" cy="619.00" r="4.05" fill="#fff" stroke="#a6a6a6" stroke-width="1.4"></circle><circle cx="211.00" cy="619.00" r="4.1" fill="#fbfdff" stroke="#4a96ff" stroke-width="1.2"></circle><circle cx="211.00" cy="619.00" r="2.6" fill="#0868ff"></circle><circle cx="224.75" cy="619.00" r="4.05" fill="#fff" stroke="#a6a6a6" stroke-width="1.4"></circle><circle cx="289.40" cy="619.00" r="4.1" fill="#fbfdff" stroke="#4a96ff" stroke-width="1.2"></circle><circle cx="289.40" cy="619.00" r="2.6" fill="#0868ff"></circle><circle cx="302.60" cy="619.00" r="4.05" fill="#fff" stroke="#a6a6a6" stroke-width="1.4"></circle><circle cx="316.35" cy="619.00" r="4.05" fill="#fff" stroke="#a6a6a6" stroke-width="1.4"></circle><circle cx="380.80" cy="619.00" r="4.1" fill="#fbfdff" stroke="#4a96ff" stroke-width="1.2"></circle><circle cx="380.80" cy="619.00" r="2.6" fill="#0868ff"></circle><circle cx="394.00" cy="619.00" r="4.05" fill="#fff" stroke="#a6a6a6" stroke-width="1.4"></circle><circle cx="407.75" cy="619.00" r="4.05" fill="#fff" stroke="#a6a6a6" stroke-width="1.4"></circle><circle cx="472.70" cy="619.00" r="4.1" fill="#fbfdff" stroke="#4a96ff" stroke-width="1.2"></circle><circle cx="472.70" cy="619.00" r="2.6" fill="#0868ff"></circle><circle cx="485.90" cy="619.00" r="4.05" fill="#fff" stroke="#a6a6a6" stroke-width="1.4"></circle><circle cx="499.65" cy="619.00" r="4.05" fill="#fff" stroke="#a6a6a6" stroke-width="1.4"></circle><circle cx="564.80" cy="619.00" r="4.1" fill="#fbfdff" stroke="#4a96ff" stroke-width="1.2"></circle><circle cx="564.80" cy="619.00" r="2.6" fill="#0868ff"></circle><circle cx="578.00" cy="619.00" r="4.05" fill="#fff" stroke="#a6a6a6" stroke-width="1.4"></circle><circle cx="591.75" cy="619.00" r="4.05" fill="#fff" stroke="#a6a6a6" stroke-width="1.4"></circle><circle cx="197.80" cy="636.75" r="4.05" fill="#fff" stroke="#a6a6a6" stroke-width="1.4"></circle><circle cx="211.00" cy="636.75" r="4.1" fill="#fbfdff" stroke="#4a96ff" stroke-width="1.2"></circle><circle cx="211.00" cy="636.75" r="2.6" fill="#0868ff"></circle><circle cx="224.75" cy="636.75" r="4.05" fill="#fff" stroke="#a6a6a6" stroke-width="1.4"></circle><circle cx="289.40" cy="636.75" r="4.1" fill="#fbfdff" stroke="#4a96ff" stroke-width="1.2"></circle><circle cx="289.40" cy="636.75" r="2.6" fill="#0868ff"></circle><circle cx="302.60" cy="636.75" r="4.05" fill="#fff" stroke="#a6a6a6" stroke-width="1.4"></circle><circle cx="316.35" cy="636.75" r="4.05" fill="#fff" stroke="#a6a6a6" stroke-width="1.4"></circle><circle cx="380.80" cy="636.75" r="4.1" fill="#fbfdff" stroke="#4a96ff" stroke-width="1.2"></circle><circle cx="380.80" cy="636.75" r="2.6" fill="#0868ff"></circle><circle cx="394.00" cy="636.75" r="4.05" fill="#fff" stroke="#a6a6a6" stroke-width="1.4"></circle><circle cx="407.75" cy="636.75" r="4.05" fill="#fff" stroke="#a6a6a6" stroke-width="1.4"></circle><circle cx="472.70" cy="636.75" r="4.1" fill="#fbfdff" stroke="#4a96ff" stroke-width="1.2"></circle><circle cx="472.70" cy="636.75" r="2.6" fill="#0868ff"></circle><circle cx="485.90" cy="636.75" r="4.05" fill="#fff" stroke="#a6a6a6" stroke-width="1.4"></circle><circle cx="499.65" cy="636.75" r="4.05" fill="#fff" stroke="#a6a6a6" stroke-width="1.4"></circle><circle cx="564.80" cy="636.75" r="4.1" fill="#fbfdff" stroke="#4a96ff" stroke-width="1.2"></circle><circle cx="564.80" cy="636.75" r="2.6" fill="#0868ff"></circle><circle cx="578.00" cy="636.75" r="4.05" fill="#fff" stroke="#a6a6a6" stroke-width="1.4"></circle><circle cx="591.75" cy="636.75" r="4.05" fill="#fff" stroke="#a6a6a6" stroke-width="1.4"></circle><circle cx="197.80" cy="654.50" r="4.05" fill="#fff" stroke="#a6a6a6" stroke-width="1.4"></circle><circle cx="211.00" cy="654.50" r="4.1" fill="#fbfdff" stroke="#4a96ff" stroke-width="1.2"></circle><circle cx="211.00" cy="654.50" r="2.6" fill="#0868ff"></circle><circle cx="224.75" cy="654.50" r="4.05" fill="#fff" stroke="#a6a6a6" stroke-width="1.4"></circle><circle cx="289.40" cy="654.50" r="4.1" fill="#fbfdff" stroke="#4a96ff" stroke-width="1.2"></circle><circle cx="289.40" cy="654.50" r="2.6" fill="#0868ff"></circle><circle cx="302.60" cy="654.50" r="4.05" fill="#fff" stroke="#a6a6a6" stroke-width="1.4"></circle><circle cx="316.35" cy="654.50" r="4.05" fill="#fff" stroke="#a6a6a6" stroke-width="1.4"></circle><circle cx="380.80" cy="654.50" r="4.1" fill="#fbfdff" stroke="#4a96ff" stroke-width="1.2"></circle><circle cx="380.80" cy="654.50" r="2.6" fill="#0868ff"></circle><circle cx="394.00" cy="654.50" r="4.05" fill="#fff" stroke="#a6a6a6" stroke-width="1.4"></circle><circle cx="407.75" cy="654.50" r="4.05" fill="#fff" stroke="#a6a6a6" stroke-width="1.4"></circle><circle cx="472.70" cy="654.50" r="4.1" fill="#fbfdff" stroke="#4a96ff" stroke-width="1.2"></circle><circle cx="472.70" cy="654.50" r="2.6" fill="#0868ff"></circle><circle cx="485.90" cy="654.50" r="4.05" fill="#fff" stroke="#a6a6a6" stroke-width="1.4"></circle><circle cx="499.65" cy="654.50" r="4.05" fill="#fff" stroke="#a6a6a6" stroke-width="1.4"></circle><circle cx="564.80" cy="654.50" r="4.1" fill="#fbfdff" stroke="#4a96ff" stroke-width="1.2"></circle><circle cx="564.80" cy="654.50" r="2.6" fill="#0868ff"></circle><circle cx="578.00" cy="654.50" r="4.05" fill="#fff" stroke="#a6a6a6" stroke-width="1.4"></circle><circle cx="591.75" cy="654.50" r="4.05" fill="#fff" stroke="#a6a6a6" stroke-width="1.4"></circle><circle cx="197.80" cy="672.25" r="4.05" fill="#fff" stroke="#a6a6a6" stroke-width="1.4"></circle><circle cx="211.00" cy="672.25" r="4.1" fill="#fbfdff" stroke="#4a96ff" stroke-width="1.2"></circle><circle cx="211.00" cy="672.25" r="2.6" fill="#0868ff"></circle><circle cx="224.75" cy="672.25" r="4.05" fill="#fff" stroke="#a6a6a6" stroke-width="1.4"></circle><circle cx="289.40" cy="672.25" r="4.1" fill="#fbfdff" stroke="#4a96ff" stroke-width="1.2"></circle><circle cx="289.40" cy="672.25" r="2.6" fill="#0868ff"></circle><circle cx="302.60" cy="672.25" r="4.05" fill="#fff" stroke="#a6a6a6" stroke-width="1.4"></circle><circle cx="316.35" cy="672.25" r="4.05" fill="#fff" stroke="#a6a6a6" stroke-width="1.4"></circle><circle cx="380.80" cy="672.25" r="4.1" fill="#fbfdff" stroke="#4a96ff" stroke-width="1.2"></circle><circle cx="380.80" cy="672.25" r="2.6" fill="#0868ff"></circle><circle cx="394.00" cy="672.25" r="4.05" fill="#fff" stroke="#a6a6a6" stroke-width="1.4"></circle><circle cx="407.75" cy="672.25" r="4.05" fill="#fff" stroke="#a6a6a6" stroke-width="1.4"></circle><circle cx="472.70" cy="672.25" r="4.1" fill="#fbfdff" stroke="#4a96ff" stroke-width="1.2"></circle><circle cx="472.70" cy="672.25" r="2.6" fill="#0868ff"></circle><circle cx="485.90" cy="672.25" r="4.05" fill="#fff" stroke="#a6a6a6" stroke-width="1.4"></circle><circle cx="499.65" cy="672.25" r="4.05" fill="#fff" stroke="#a6a6a6" stroke-width="1.4"></circle><circle cx="564.80" cy="672.25" r="4.1" fill="#fbfdff" stroke="#4a96ff" stroke-width="1.2"></circle><circle cx="564.80" cy="672.25" r="2.6" fill="#0868ff"></circle><circle cx="578.00" cy="672.25" r="4.05" fill="#fff" stroke="#a6a6a6" stroke-width="1.4"></circle><circle cx="591.75" cy="672.25" r="4.05" fill="#fff" stroke="#a6a6a6" stroke-width="1.4"></circle><circle cx="197.80" cy="690.00" r="4.05" fill="#fff" stroke="#a6a6a6" stroke-width="1.4"></circle><circle cx="211.00" cy="690.00" r="4.1" fill="#fbfdff" stroke="#4a96ff" stroke-width="1.2"></circle><circle cx="211.00" cy="690.00" r="2.6" fill="#0868ff"></circle><circle cx="224.75" cy="690.00" r="4.05" fill="#fff" stroke="#a6a6a6" stroke-width="1.4"></circle><circle cx="289.40" cy="690.00" r="4.1" fill="#fbfdff" stroke="#4a96ff" stroke-width="1.2"></circle><circle cx="289.40" cy="690.00" r="2.6" fill="#0868ff"></circle><circle cx="302.60" cy="690.00" r="4.05" fill="#fff" stroke="#a6a6a6" stroke-width="1.4"></circle><circle cx="316.35" cy="690.00" r="4.05" fill="#fff" stroke="#a6a6a6" stroke-width="1.4"></circle><circle cx="380.80" cy="690.00" r="4.1" fill="#fbfdff" stroke="#4a96ff" stroke-width="1.2"></circle><circle cx="380.80" cy="690.00" r="2.6" fill="#0868ff"></circle><circle cx="394.00" cy="690.00" r="4.05" fill="#fff" stroke="#a6a6a6" stroke-width="1.4"></circle><circle cx="407.75" cy="690.00" r="4.05" fill="#fff" stroke="#a6a6a6" stroke-width="1.4"></circle><circle cx="472.70" cy="690.00" r="4.1" fill="#fbfdff" stroke="#4a96ff" stroke-width="1.2"></circle><circle cx="472.70" cy="690.00" r="2.6" fill="#0868ff"></circle><circle cx="485.90" cy="690.00" r="4.05" fill="#fff" stroke="#a6a6a6" stroke-width="1.4"></circle><circle cx="499.65" cy="690.00" r="4.05" fill="#fff" stroke="#a6a6a6" stroke-width="1.4"></circle><circle cx="564.80" cy="690.00" r="4.1" fill="#fbfdff" stroke="#4a96ff" stroke-width="1.2"></circle><circle cx="564.80" cy="690.00" r="2.6" fill="#0868ff"></circle><circle cx="578.00" cy="690.00" r="4.05" fill="#fff" stroke="#a6a6a6" stroke-width="1.4"></circle><circle cx="591.75" cy="690.00" r="4.05" fill="#fff" stroke="#a6a6a6" stroke-width="1.4"></circle><circle cx="197.80" cy="707.75" r="4.05" fill="#fff" stroke="#a6a6a6" stroke-width="1.4"></circle><circle cx="211.00" cy="707.75" r="4.1" fill="#fbfdff" stroke="#4a96ff" stroke-width="1.2"></circle><circle cx="211.00" cy="707.75" r="2.6" fill="#0868ff"></circle><circle cx="224.75" cy="707.75" r="4.05" fill="#fff" stroke="#a6a6a6" stroke-width="1.4"></circle><circle cx="289.40" cy="707.75" r="4.1" fill="#fbfdff" stroke="#4a96ff" stroke-width="1.2"></circle><circle cx="289.40" cy="707.75" r="2.6" fill="#0868ff"></circle><circle cx="302.60" cy="707.75" r="4.05" fill="#fff" stroke="#a6a6a6" stroke-width="1.4"></circle><circle cx="316.35" cy="707.75" r="4.05" fill="#fff" stroke="#a6a6a6" stroke-width="1.4"></circle><circle cx="380.80" cy="707.75" r="4.1" fill="#fbfdff" stroke="#4a96ff" stroke-width="1.2"></circle><circle cx="380.80" cy="707.75" r="2.6" fill="#0868ff"></circle><circle cx="394.00" cy="707.75" r="4.05" fill="#fff" stroke="#a6a6a6" stroke-width="1.4"></circle><circle cx="407.75" cy="707.75" r="4.05" fill="#fff" stroke="#a6a6a6" stroke-width="1.4"></circle><circle cx="472.70" cy="707.75" r="4.1" fill="#fbfdff" stroke="#4a96ff" stroke-width="1.2"></circle><circle cx="472.70" cy="707.75" r="2.6" fill="#0868ff"></circle><circle cx="485.90" cy="707.75" r="4.05" fill="#fff" stroke="#a6a6a6" stroke-width="1.4"></circle><circle cx="499.65" cy="707.75" r="4.05" fill="#fff" stroke="#a6a6a6" stroke-width="1.4"></circle><circle cx="564.80" cy="707.75" r="4.1" fill="#fbfdff" stroke="#4a96ff" stroke-width="1.2"></circle><circle cx="564.80" cy="707.75" r="2.6" fill="#0868ff"></circle><circle cx="578.00" cy="707.75" r="4.05" fill="#fff" stroke="#a6a6a6" stroke-width="1.4"></circle><circle cx="591.75" cy="707.75" r="4.05" fill="#fff" stroke="#a6a6a6" stroke-width="1.4"></circle><circle cx="197.10" cy="99.4" r="4.4" fill="#f0566a" stroke="#3a3a70" stroke-width="1.15"></circle><circle cx="197.10" cy="98.10" r="2.4" fill="#f58a96" opacity=".7"></circle><path d="M195.30 97.60 l3.6 3.6 M198.90 97.60 l-3.6 3.6" stroke="#2c2c60" stroke-width="1.3" fill="none"></path><circle cx="210.60" cy="99.4" r="4.4" fill="#7ddc8b" stroke="#3a3a70" stroke-width="1.15"></circle><circle cx="210.60" cy="98.10" r="2.4" fill="#b4f0bc" opacity=".7"></circle><path d="M208.30 99.20 l1.7 1.8 l2.9 -3.4" stroke="#2c2c60" stroke-width="1.35" fill="none"></path><circle cx="224.10" cy="99.4" r="4.4" fill="#f5d48c" stroke="#3a3a70" stroke-width="1.15"></circle><circle cx="224.10" cy="98.10" r="2.4" fill="#fbe9c0" opacity=".7"></circle><path d="M221.80 99.20 l1.7 1.8 l2.9 -3.4" stroke="#2c2c60" stroke-width="1.35" fill="none"></path><circle cx="288.70" cy="99.4" r="4.4" fill="#f0566a" stroke="#3a3a70" stroke-width="1.15"></circle><circle cx="288.70" cy="98.10" r="2.4" fill="#f58a96" opacity=".7"></circle><path d="M286.90 97.60 l3.6 3.6 M290.50 97.60 l-3.6 3.6" stroke="#2c2c60" stroke-width="1.3" fill="none"></path><circle cx="302.20" cy="99.4" r="4.4" fill="#7ddc8b" stroke="#3a3a70" stroke-width="1.15"></circle><circle cx="302.20" cy="98.10" r="2.4" fill="#b4f0bc" opacity=".7"></circle><path d="M299.90 99.20 l1.7 1.8 l2.9 -3.4" stroke="#2c2c60" stroke-width="1.35" fill="none"></path><circle cx="315.70" cy="99.4" r="4.4" fill="#f5d48c" stroke="#3a3a70" stroke-width="1.15"></circle><circle cx="315.70" cy="98.10" r="2.4" fill="#fbe9c0" opacity=".7"></circle><path d="M313.40 99.20 l1.7 1.8 l2.9 -3.4" stroke="#2c2c60" stroke-width="1.35" fill="none"></path><circle cx="380.10" cy="99.4" r="4.4" fill="#f0566a" stroke="#3a3a70" stroke-width="1.15"></circle><circle cx="380.10" cy="98.10" r="2.4" fill="#f58a96" opacity=".7"></circle><path d="M378.30 97.60 l3.6 3.6 M381.90 97.60 l-3.6 3.6" stroke="#2c2c60" stroke-width="1.3" fill="none"></path><circle cx="393.60" cy="99.4" r="4.4" fill="#7ddc8b" stroke="#3a3a70" stroke-width="1.15"></circle><circle cx="393.60" cy="98.10" r="2.4" fill="#b4f0bc" opacity=".7"></circle><path d="M391.30 99.20 l1.7 1.8 l2.9 -3.4" stroke="#2c2c60" stroke-width="1.35" fill="none"></path><circle cx="407.10" cy="99.4" r="4.4" fill="#f5d48c" stroke="#3a3a70" stroke-width="1.15"></circle><circle cx="407.10" cy="98.10" r="2.4" fill="#fbe9c0" opacity=".7"></circle><path d="M404.80 99.20 l1.7 1.8 l2.9 -3.4" stroke="#2c2c60" stroke-width="1.35" fill="none"></path><circle cx="472.00" cy="99.4" r="4.4" fill="#f0566a" stroke="#3a3a70" stroke-width="1.15"></circle><circle cx="472.00" cy="98.10" r="2.4" fill="#f58a96" opacity=".7"></circle><path d="M470.20 97.60 l3.6 3.6 M473.80 97.60 l-3.6 3.6" stroke="#2c2c60" stroke-width="1.3" fill="none"></path><circle cx="485.50" cy="99.4" r="4.4" fill="#7ddc8b" stroke="#3a3a70" stroke-width="1.15"></circle><circle cx="485.50" cy="98.10" r="2.4" fill="#b4f0bc" opacity=".7"></circle><path d="M483.20 99.20 l1.7 1.8 l2.9 -3.4" stroke="#2c2c60" stroke-width="1.35" fill="none"></path><circle cx="499.00" cy="99.4" r="4.4" fill="#f5d48c" stroke="#3a3a70" stroke-width="1.15"></circle><circle cx="499.00" cy="98.10" r="2.4" fill="#fbe9c0" opacity=".7"></circle><path d="M496.70 99.20 l1.7 1.8 l2.9 -3.4" stroke="#2c2c60" stroke-width="1.35" fill="none"></path><circle cx="564.10" cy="99.4" r="4.4" fill="#f0566a" stroke="#3a3a70" stroke-width="1.15"></circle><circle cx="564.10" cy="98.10" r="2.4" fill="#f58a96" opacity=".7"></circle><path d="M562.30 97.60 l3.6 3.6 M565.90 97.60 l-3.6 3.6" stroke="#2c2c60" stroke-width="1.3" fill="none"></path><circle cx="577.60" cy="99.4" r="4.4" fill="#7ddc8b" stroke="#3a3a70" stroke-width="1.15"></circle><circle cx="577.60" cy="98.10" r="2.4" fill="#b4f0bc" opacity=".7"></circle><path d="M575.30 99.20 l1.7 1.8 l2.9 -3.4" stroke="#2c2c60" stroke-width="1.35" fill="none"></path><circle cx="591.10" cy="99.4" r="4.4" fill="#f5d48c" stroke="#3a3a70" stroke-width="1.15"></circle><circle cx="591.10" cy="98.10" r="2.4" fill="#fbe9c0" opacity=".7"></circle><path d="M588.80 99.20 l1.7 1.8 l2.9 -3.4" stroke="#2c2c60" stroke-width="1.35" fill="none"></path></svg>
<div class="abs n" style="top:117.55px">1</div>
<div class="abs l" style="top: 117.55px; letter-spacing: 0.9px; transform: scaleX(1.011); transform-origin: 0px 0px;">Account</div>
<div class="abs n" style="top:135.30px">2</div>
<div class="abs l" style="top: 135.3px; letter-spacing: 0.43px;">Authentication Server</div>
<div class="abs n" style="top:153.05px">3</div>
<div class="abs l" style="top: 153.05px; letter-spacing: 0.38px;">Bluetooth</div>
<div class="abs n" style="top:170.80px">4</div>
<div class="abs l" style="top: 170.8px; letter-spacing: 0.08px;">Built-in Service</div>
<div class="abs n" style="top:188.55px">5</div>
<div class="abs l" style="top: 188.55px; letter-spacing: 0.59px;">Cloud Auth</div>
<div class="abs n" style="top:206.30px">6</div>
<div class="abs l" style="top: 206.3px; letter-spacing: 0.62px;">Connectivity Check</div>
<div class="abs n" style="top:224.05px">7</div>
<div class="abs l" style="top: 224.05px; letter-spacing: 0.26px;">Daily Report</div>
<div class="abs n" style="top:241.80px">8</div>
<div class="abs l" style="top: 241.8px; letter-spacing: 0.51px;">Default</div>
<div class="abs n" style="top:259.55px">9</div>
<div class="abs l" style="top: 259.55px; letter-spacing: 0.47px;">Device HA</div>
<div class="abs n" style="top:277.30px">10</div>
<div class="abs l" style="top: 277.3px; letter-spacing: 0.49px;">Dynamic Frequency ...</div>
<div class="abs n" style="top:295.05px">11</div>
<div class="abs l" style="top: 295.05px; letter-spacing: -0.03px;">DHCP</div>
<div class="abs n" style="top:312.80px">12</div>
<div class="abs l" style="top: 312.8px; letter-spacing: 0.4px;">File Manager</div>
<div class="abs n" style="top:330.55px">13</div>
<div class="abs l" style="top: 330.55px; letter-spacing: 0.56px;">Force Authentication</div>
<div class="abs n" style="top:348.30px">14</div>
<div class="abs l" style="top: 348.3px; letter-spacing: 0.57px;">Interface</div>
<div class="abs n" style="top:366.05px">15</div>
<div class="abs l" style="top: 366.05px; letter-spacing: 0.27px;">Interface Statistics</div>
<div class="abs n" style="top:383.80px">16</div>
<div class="abs l" style="top: 383.8px; letter-spacing: -0.2px; transform: scaleX(0.874); transform-origin: 0px 0px;">PKI</div>
<div class="abs n" style="top:401.55px">17</div>
<div class="abs l" style="top: 401.55px; letter-spacing: 0.24px;">Real-Time Location S...</div>
<div class="abs n" style="top:419.30px">18</div>
<div class="abs l" style="top: 419.3px; letter-spacing: 0.17px;">Smart Mesh</div>
<div class="abs n" style="top:437.05px">19</div>
<div class="abs l" style="top: 437.05px; letter-spacing: 0.43px;">sta roaming</div>
<div class="abs n" style="top:454.80px">20</div>
<div class="abs l" style="top: 454.8px; letter-spacing: 0.38px;">Station Info Collection</div>
<div class="abs n" style="top:472.55px">21</div>
<div class="abs l" style="top: 472.55px; letter-spacing: -0.06px;">System</div>
<div class="abs n" style="top:490.30px">22</div>
<div class="abs l" style="top: 490.3px; letter-spacing: 0.28px;">System Monitoring</div>
<div class="abs n" style="top:508.05px">23</div>
<div class="abs l" style="top: 508.05px; letter-spacing: 0.19px;">Traffic Log</div>
<div class="abs n" style="top:525.80px">24</div>
<div class="abs l" style="top: 525.8px; letter-spacing: -0.2px; transform: scaleX(0.95); transform-origin: 0px 0px;">User</div>
<div class="abs n" style="top:543.55px">25</div>
<div class="abs l" style="top: 543.55px; letter-spacing: 0.08px;">Wireless Health</div>
<div class="abs n" style="top:561.30px">26</div>
<div class="abs l" style="top: 561.3px; letter-spacing: -0.12px;">Wireless LAN</div>
<div class="abs n" style="top:579.05px">27</div>
<div class="abs l" style="top: 579.05px; letter-spacing: 0.25px;">WLAN Band Select</div>
<div class="abs n" style="top:596.80px">28</div>
<div class="abs l" style="top: 596.8px; letter-spacing: 0.47px;">WLAN Dynamic Cha...</div>
<div class="abs n" style="top:614.55px">29</div>
<div class="abs l" style="top: 614.55px; letter-spacing: 0.42px;">AP Load Balancing</div>
<div class="abs n" style="top:632.30px">30</div>
<div class="abs l" style="top: 632.3px; letter-spacing: 0.31px;">WLAN Rogue AP Det...</div>
<div class="abs n" style="top:650.05px">31</div>
<div class="abs l" style="top: 650.05px; letter-spacing: 0.26px;">Wlan Station Info</div>
<div class="abs n" style="top:667.80px">32</div>
<div class="abs l" style="top: 667.8px; letter-spacing: 0.3px;">Zyxel One Network</div>
<div class="abs n" style="top:685.55px">33</div>
<div class="abs l" style="top: 685.55px; letter-spacing: -0.01px;">ZyMesh</div>
<div class="abs n" style="top:703.30px">34</div>
<div class="abs l" style="top: 703.3px; letter-spacing: -0.2px; transform: scaleX(0.871); transform-origin: 0px 0px;">ZySH</div>
<div class="abs" id="pager"></div>
<svg class="abs" style="left:23.4px;top:723.8px" width="8" height="8.4" viewBox="0 0 8 8.4"><rect x="0" y="0" width="1.6" height="8.4" fill="#aaa"></rect><path d="M7.8 0V8.4L2.4 4.2Z" fill="#aaa"></path></svg>
<svg class="abs" style="left:40.4px;top:723.8px" width="5" height="8.4" viewBox="0 0 5 8.4"><path d="M5 0V8.4L0 4.2Z" fill="#aaa"></path></svg>
<div class="abs sep" style="left:53px"></div>
<div class="abs p" style="left: 58.6px; letter-spacing: 0.44px;">Page</div>
<div class="abs" style="left:88px;top:721px;width:16.6px;height:13.2px;border:1px solid #7a7a7a;background:#fff"></div>
<div class="abs p" style="left:90.5px;color:#aaa">1</div>
<div class="abs p" style="left: 109.3px; letter-spacing: -0.2px;">of 1</div>
<div class="abs sep" style="left:130.5px"></div>
<svg class="abs" style="left:138.8px;top:723.8px" width="5" height="8.4" viewBox="0 0 5 8.4"><path d="M0 0V8.4L5 4.2Z" fill="#aaa"></path></svg>
<svg class="abs" style="left:153.4px;top:723.8px" width="8" height="8.4" viewBox="0 0 8 8.4"><rect x="6.4" y="0" width="1.6" height="8.4" fill="#aaa"></rect><path d="M0.2 0V8.4L5.6 4.2Z" fill="#aaa"></path></svg>
<div class="abs sep" style="left:167.5px"></div>
<div class="abs p" style="left: 172.7px; letter-spacing: -0.03px;">Show</div>
<div class="abs" style="left:200px;top:720px;width:23px;height:14.5px;border:1px solid #c3cbe2;background:#fff"></div>
<div class="abs" style="left:222.4px;top:720px;width:13.4px;height:14.5px;border:1px solid #c3cbe2;background:linear-gradient(#f4f6fb,#d5dbea)"></div>
<svg class="abs" style="left:226px;top:724.5px" width="6.4" height="5" viewBox="0 0 6.4 5"><path d="M0.6 0.8 L3.2 3.6 L5.8 0.8" stroke="#1f4d96" stroke-width="1.6" fill="none"></path></svg>
<div class="abs" style="left:202.5px;top:722px;font-size:8.5px;line-height:11px;color:#333">50</div>
<div class="abs p" style="left: 237px; letter-spacing: 0.02px;">items</div>
<div class="abs p" style="left: 529.3px; letter-spacing: 0.19px;">Displaying 1 - 34 of 34</div>
<div class="abs btn" style="left:545.8px;width:48.8px">OK</div>
<div class="abs btn" style="left:603px;width:50px">Cancel</div>
</div></body></html>
